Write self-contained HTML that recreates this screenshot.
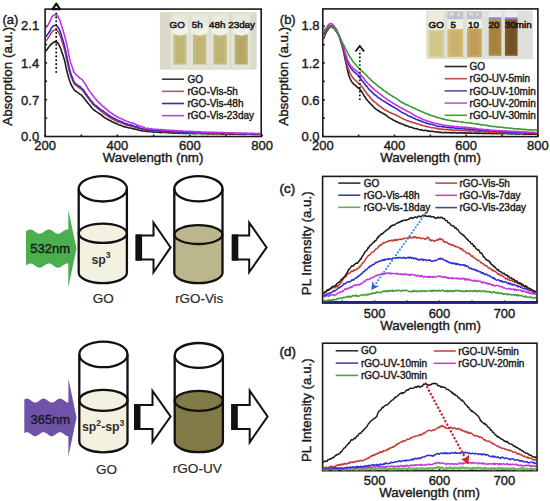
<!DOCTYPE html>
<html><head><meta charset="utf-8"><style>
html,body{margin:0;padding:0;background:#fff;}
svg{display:block;}
svg text{font-family:"Liberation Sans", sans-serif;}
</style></head><body>
<svg width="550" height="501" viewBox="0 0 550 501">
<rect width="550" height="501" fill="#fff"/>
<g stroke="#1a1a1a" stroke-width="1.6" fill="none">
<rect x="45.1" y="9.1" width="216.1" height="127.4"/>
<line x1="45.1" y1="136.5" x2="45.1" y2="134.5"/>
<line x1="81.3" y1="136.5" x2="81.3" y2="134.5"/>
<line x1="117.4" y1="136.5" x2="117.4" y2="134.5"/>
<line x1="153.6" y1="136.5" x2="153.6" y2="134.5"/>
<line x1="189.8" y1="136.5" x2="189.8" y2="134.5"/>
<line x1="225.9" y1="136.5" x2="225.9" y2="134.5"/>
<line x1="262.1" y1="136.5" x2="262.1" y2="134.5"/>
<line x1="45.1" y1="118.1" x2="47.1" y2="118.1"/>
<line x1="45.1" y1="99.7" x2="47.1" y2="99.7"/>
<line x1="45.1" y1="81.30000000000001" x2="47.1" y2="81.30000000000001"/>
<line x1="45.1" y1="62.900000000000006" x2="47.1" y2="62.900000000000006"/>
<line x1="45.1" y1="44.5" x2="47.1" y2="44.5"/>
<line x1="45.1" y1="26.10000000000001" x2="47.1" y2="26.10000000000001"/>
</g>
<path d="M45.90,51.14 L46.70,49.89 L47.50,49.01 L48.30,47.64 L49.10,46.81 L49.90,45.70 L50.70,44.60 L51.50,44.02 L52.30,43.17 L53.10,42.89 L53.90,42.24 L54.70,41.75 L55.50,41.81 L56.30,42.28 L57.10,42.35 L57.90,43.04 L58.70,44.25 L59.50,45.91 L60.30,47.67 L61.10,49.78 L61.90,52.38 L62.70,54.21 L63.50,57.03 L64.30,59.41 L65.10,62.54 L65.90,66.66 L66.70,70.30 L67.50,73.65 L68.30,76.26 L69.10,79.16 L69.90,81.57 L70.70,83.48 L71.50,85.39 L72.30,86.76 L73.10,88.16 L73.90,89.41 L74.70,90.52 L75.50,91.02 L76.30,91.46 L77.10,92.09 L77.90,92.60 L78.70,93.08 L79.50,93.87 L80.30,94.37 L81.10,94.76 L81.90,95.64 L82.70,96.47 L83.50,97.61 L84.30,98.57 L85.10,99.41 L85.90,100.81 L86.70,101.38 L87.50,102.53 L88.30,103.69 L89.10,104.38 L89.90,105.53 L90.70,106.25 L91.50,107.52 L92.30,108.53 L93.10,109.26 L93.90,110.11 L94.70,110.42 L95.50,111.15 L96.30,111.61 L97.10,112.09 L97.90,112.52 L98.70,113.21 L99.50,113.78 L100.30,114.11 L101.10,114.81 L101.90,115.15 L102.70,116.13 L103.50,116.75 L104.30,117.53 L105.10,118.00 L105.90,118.26 L106.70,118.80 L107.50,119.42 L108.30,119.56 L109.10,120.23 L109.90,120.52 L110.70,120.91 L111.50,121.29 L112.30,122.04 L113.10,122.09 L113.90,122.52 L114.70,122.94 L115.50,123.50 L116.30,123.42 L117.10,123.91 L117.90,124.27 L118.70,124.75 L119.50,125.04 L120.30,125.39 L121.10,125.42 L121.90,125.79 L122.70,126.06 L123.50,126.60 L124.30,126.90 L125.10,126.75 L125.90,127.00 L126.70,127.26 L127.50,127.47 L128.30,127.78 L129.10,127.99 L129.90,127.98 L130.70,127.99 L131.50,128.35 L132.30,128.47 L133.10,128.72 L133.90,129.06 L134.70,129.08 L135.50,129.15 L136.30,129.37 L137.10,129.59 L137.90,129.50 L138.70,130.17 L139.50,130.34 L140.30,130.58 L141.10,130.71 L141.90,130.66 L142.70,130.85 L143.50,130.88 L144.30,131.29 L145.10,131.13 L145.90,131.23 L146.70,131.39 L147.50,131.44 L148.30,131.60 L149.10,131.51 L149.90,131.54 L150.70,131.67 L151.50,131.70 L152.30,131.88 L153.10,131.75 L153.90,132.22 L154.70,132.14 L155.50,131.95 L156.30,132.05 L157.10,132.14 L157.90,132.19 L158.70,132.11 L159.50,132.51 L160.30,132.62 L161.10,132.40 L161.90,132.44 L162.70,132.28 L163.50,132.33 L164.30,132.49 L165.10,132.49 L165.90,132.80 L166.70,132.51 L167.50,132.47 L168.30,132.97 L169.10,132.79 L169.90,132.64 L170.70,132.87 L171.50,132.64 L172.30,132.93 L173.10,133.19 L173.90,133.16 L174.70,133.11 L175.50,132.92 L176.30,133.00 L177.10,132.93 L177.90,133.26 L178.70,133.17 L179.50,133.32 L180.30,133.12 L181.10,133.09 L181.90,133.41 L182.70,133.52 L183.50,133.48 L184.30,133.48 L185.10,133.50 L185.90,133.48 L186.70,133.24 L187.50,133.41 L188.30,133.34 L189.10,133.19 L189.90,133.21 L190.70,133.35 L191.50,133.35 L192.30,133.58 L193.10,133.72 L193.90,133.48 L194.70,133.74 L195.50,133.77 L196.30,133.77 L197.10,133.48 L197.90,133.42 L198.70,133.44 L199.50,133.43 L200.30,133.45 L201.10,133.67 L201.90,133.81 L202.70,133.79 L203.50,133.62 L204.30,133.72 L205.10,133.81 L205.90,133.46 L206.70,133.76 L207.50,133.90 L208.30,133.85 L209.10,133.84 L209.90,133.72 L210.70,133.58 L211.50,133.90 L212.30,133.69 L213.10,133.93 L213.90,134.03 L214.70,133.75 L215.50,133.77 L216.30,134.06 L217.10,133.96 L217.90,133.69 L218.70,133.68 L219.50,133.71 L220.30,134.10 L221.10,134.06 L221.90,133.74 L222.70,134.09 L223.50,134.18 L224.30,134.03 L225.10,133.89 L225.90,134.00 L226.70,133.80 L227.50,133.75 L228.30,134.24 L229.10,134.09 L229.90,134.04 L230.70,134.26 L231.50,134.02 L232.30,134.25 L233.10,134.24 L233.90,133.94 L234.70,133.97 L235.50,134.00 L236.30,133.99 L237.10,134.17 L237.90,134.02 L238.70,134.11 L239.50,133.97 L240.30,134.37 L241.10,134.10 L241.90,134.16 L242.70,134.24 L243.50,134.41 L244.30,134.17 L245.10,134.43 L245.90,134.23 L246.70,134.26 L247.50,134.26 L248.30,134.02 L249.10,134.24 L249.90,134.12 L250.70,134.04 L251.50,134.44 L252.30,134.14 L253.10,134.30 L253.90,134.43 L254.70,134.36 L255.50,134.25 L256.30,134.36 L257.10,134.38 L257.90,134.51 L258.70,134.18 L259.50,134.41 L260.30,134.27" fill="none" stroke="#1c1c1c" stroke-width="1.6" stroke-linejoin="round"/>
<path d="M45.90,41.07 L46.70,40.17 L47.50,38.89 L48.30,37.76 L49.10,36.63 L49.90,35.36 L50.70,33.76 L51.50,32.55 L52.30,31.40 L53.10,30.79 L53.90,30.41 L54.70,29.88 L55.50,29.80 L56.30,29.95 L57.10,30.57 L57.90,31.23 L58.70,32.52 L59.50,34.22 L60.30,35.96 L61.10,38.48 L61.90,41.17 L62.70,43.64 L63.50,45.93 L64.30,48.76 L65.10,52.15 L65.90,55.84 L66.70,59.55 L67.50,62.92 L68.30,66.73 L69.10,70.20 L69.90,73.32 L70.70,75.46 L71.50,77.79 L72.30,79.69 L73.10,81.35 L73.90,83.27 L74.70,84.42 L75.50,84.81 L76.30,85.77 L77.10,86.07 L77.90,86.73 L78.70,87.60 L79.50,88.11 L80.30,88.35 L81.10,89.09 L81.90,89.83 L82.70,90.57 L83.50,91.48 L84.30,92.64 L85.10,94.01 L85.90,94.85 L86.70,96.25 L87.50,97.29 L88.30,98.15 L89.10,99.36 L89.90,100.54 L90.70,101.49 L91.50,102.27 L92.30,103.73 L93.10,104.55 L93.90,105.45 L94.70,105.77 L95.50,106.55 L96.30,107.11 L97.10,108.13 L97.90,108.51 L98.70,109.06 L99.50,109.83 L100.30,110.70 L101.10,111.29 L101.90,111.67 L102.70,112.27 L103.50,113.31 L104.30,113.77 L105.10,114.44 L105.90,114.71 L106.70,115.25 L107.50,116.11 L108.30,116.50 L109.10,116.84 L109.90,117.76 L110.70,118.09 L111.50,118.63 L112.30,118.71 L113.10,119.53 L113.90,119.55 L114.70,120.36 L115.50,120.54 L116.30,120.86 L117.10,121.33 L117.90,121.87 L118.70,121.89 L119.50,122.15 L120.30,122.66 L121.10,122.83 L121.90,123.07 L122.70,123.40 L123.50,123.66 L124.30,124.05 L125.10,124.42 L125.90,124.73 L126.70,125.24 L127.50,125.26 L128.30,125.58 L129.10,125.61 L129.90,125.86 L130.70,125.86 L131.50,126.15 L132.30,126.23 L133.10,126.80 L133.90,126.93 L134.70,126.98 L135.50,127.35 L136.30,127.81 L137.10,127.63 L137.90,128.25 L138.70,128.32 L139.50,128.60 L140.30,129.00 L141.10,128.97 L141.90,129.22 L142.70,129.55 L143.50,129.93 L144.30,129.81 L145.10,130.22 L145.90,130.29 L146.70,130.37 L147.50,130.36 L148.30,130.42 L149.10,130.35 L149.90,130.46 L150.70,130.50 L151.50,130.90 L152.30,130.72 L153.10,130.74 L153.90,130.76 L154.70,131.19 L155.50,131.26 L156.30,131.21 L157.10,131.07 L157.90,131.11 L158.70,131.18 L159.50,131.32 L160.30,131.22 L161.10,131.41 L161.90,131.37 L162.70,131.76 L163.50,131.82 L164.30,131.65 L165.10,131.54 L165.90,131.95 L166.70,131.67 L167.50,131.74 L168.30,131.60 L169.10,131.83 L169.90,131.92 L170.70,131.98 L171.50,131.87 L172.30,132.06 L173.10,131.86 L173.90,132.03 L174.70,131.98 L175.50,132.17 L176.30,132.03 L177.10,132.06 L177.90,132.24 L178.70,132.24 L179.50,132.45 L180.30,132.46 L181.10,132.60 L181.90,132.59 L182.70,132.65 L183.50,132.76 L184.30,132.54 L185.10,132.54 L185.90,132.90 L186.70,132.51 L187.50,132.82 L188.30,132.80 L189.10,132.53 L189.90,132.95 L190.70,133.00 L191.50,132.89 L192.30,132.96 L193.10,133.02 L193.90,132.70 L194.70,132.92 L195.50,132.92 L196.30,133.11 L197.10,133.11 L197.90,133.14 L198.70,133.04 L199.50,133.21 L200.30,133.12 L201.10,133.14 L201.90,132.93 L202.70,132.85 L203.50,132.92 L204.30,133.05 L205.10,132.94 L205.90,133.32 L206.70,133.20 L207.50,133.25 L208.30,133.27 L209.10,133.32 L209.90,133.24 L210.70,133.02 L211.50,133.43 L212.30,133.42 L213.10,133.32 L213.90,133.35 L214.70,133.43 L215.50,133.15 L216.30,133.51 L217.10,133.28 L217.90,133.21 L218.70,133.32 L219.50,133.57 L220.30,133.32 L221.10,133.61 L221.90,133.74 L222.70,133.52 L223.50,133.48 L224.30,133.54 L225.10,133.66 L225.90,133.72 L226.70,133.66 L227.50,133.68 L228.30,133.42 L229.10,133.47 L229.90,133.54 L230.70,133.79 L231.50,133.59 L232.30,133.74 L233.10,133.47 L233.90,133.51 L234.70,133.63 L235.50,133.85 L236.30,133.87 L237.10,133.88 L237.90,133.70 L238.70,133.82 L239.50,133.81 L240.30,133.83 L241.10,133.67 L241.90,134.07 L242.70,133.73 L243.50,134.13 L244.30,134.13 L245.10,133.68 L245.90,133.91 L246.70,134.10 L247.50,134.19 L248.30,133.94 L249.10,133.87 L249.90,133.85 L250.70,134.23 L251.50,133.87 L252.30,134.07 L253.10,133.86 L253.90,134.07 L254.70,134.29 L255.50,133.89 L256.30,134.25 L257.10,134.11 L257.90,134.31 L258.70,134.23 L259.50,134.00 L260.30,134.35" fill="none" stroke="#c4403c" stroke-width="1.6" stroke-linejoin="round"/>
<path d="M45.90,36.86 L46.70,35.54 L47.50,34.43 L48.30,33.55 L49.10,32.28 L49.90,30.78 L50.70,29.23 L51.50,27.90 L52.30,26.66 L53.10,26.32 L53.90,25.50 L54.70,25.55 L55.50,25.53 L56.30,25.37 L57.10,26.22 L57.90,27.00 L58.70,28.43 L59.50,29.90 L60.30,32.05 L61.10,34.36 L61.90,37.07 L62.70,39.52 L63.50,42.19 L64.30,45.19 L65.10,48.43 L65.90,52.18 L66.70,55.93 L67.50,59.93 L68.30,63.43 L69.10,67.46 L69.90,70.47 L70.70,73.18 L71.50,75.48 L72.30,77.40 L73.10,79.62 L73.90,81.61 L74.70,82.80 L75.50,83.58 L76.30,84.11 L77.10,84.85 L77.90,85.49 L78.70,85.92 L79.50,86.61 L80.30,86.85 L81.10,87.80 L81.90,88.35 L82.70,89.33 L83.50,90.25 L84.30,91.19 L85.10,92.27 L85.90,93.93 L86.70,94.70 L87.50,96.00 L88.30,97.02 L89.10,98.06 L89.90,99.33 L90.70,100.48 L91.50,101.14 L92.30,102.35 L93.10,103.10 L93.90,104.07 L94.70,104.78 L95.50,105.35 L96.30,105.99 L97.10,106.63 L97.90,107.58 L98.70,107.97 L99.50,108.41 L100.30,109.34 L101.10,109.97 L101.90,110.30 L102.70,110.75 L103.50,111.37 L104.30,111.91 L105.10,112.60 L105.90,113.02 L106.70,113.63 L107.50,114.16 L108.30,114.84 L109.10,115.55 L109.90,116.02 L110.70,116.36 L111.50,116.85 L112.30,117.38 L113.10,117.77 L113.90,118.21 L114.70,118.51 L115.50,119.05 L116.30,119.80 L117.10,119.78 L117.90,120.35 L118.70,120.78 L119.50,121.23 L120.30,121.23 L121.10,121.57 L121.90,121.87 L122.70,122.26 L123.50,122.62 L124.30,123.22 L125.10,123.52 L125.90,123.88 L126.70,123.77 L127.50,124.06 L128.30,124.64 L129.10,124.93 L129.90,124.89 L130.70,125.12 L131.50,125.01 L132.30,125.42 L133.10,125.93 L133.90,126.13 L134.70,126.41 L135.50,126.73 L136.30,126.63 L137.10,126.81 L137.90,127.11 L138.70,127.57 L139.50,127.91 L140.30,128.27 L141.10,128.37 L141.90,128.54 L142.70,128.85 L143.50,128.97 L144.30,129.24 L145.10,129.17 L145.90,129.69 L146.70,129.54 L147.50,129.99 L148.30,129.96 L149.10,129.87 L149.90,129.87 L150.70,130.00 L151.50,130.26 L152.30,130.36 L153.10,130.13 L153.90,130.18 L154.70,130.47 L155.50,130.55 L156.30,130.51 L157.10,130.49 L157.90,130.73 L158.70,130.49 L159.50,130.69 L160.30,130.83 L161.10,131.13 L161.90,131.02 L162.70,131.19 L163.50,131.04 L164.30,130.97 L165.10,131.02 L165.90,131.43 L166.70,131.35 L167.50,131.20 L168.30,131.10 L169.10,131.39 L169.90,131.52 L170.70,131.44 L171.50,131.40 L172.30,131.65 L173.10,131.82 L173.90,131.52 L174.70,131.46 L175.50,131.66 L176.30,131.74 L177.10,131.91 L177.90,131.71 L178.70,132.05 L179.50,132.06 L180.30,131.98 L181.10,131.87 L181.90,132.29 L182.70,132.00 L183.50,132.28 L184.30,132.02 L185.10,132.05 L185.90,132.35 L186.70,132.15 L187.50,132.51 L188.30,132.31 L189.10,132.18 L189.90,132.22 L190.70,132.35 L191.50,132.50 L192.30,132.66 L193.10,132.28 L193.90,132.43 L194.70,132.36 L195.50,132.77 L196.30,132.37 L197.10,132.35 L197.90,132.38 L198.70,132.56 L199.50,132.84 L200.30,132.85 L201.10,132.80 L201.90,132.95 L202.70,132.94 L203.50,132.66 L204.30,132.60 L205.10,133.00 L205.90,132.93 L206.70,132.59 L207.50,132.93 L208.30,132.81 L209.10,132.83 L209.90,132.83 L210.70,132.77 L211.50,132.70 L212.30,132.86 L213.10,132.92 L213.90,133.24 L214.70,132.85 L215.50,133.29 L216.30,132.93 L217.10,133.02 L217.90,133.27 L218.70,133.29 L219.50,133.12 L220.30,132.94 L221.10,133.17 L221.90,133.14 L222.70,133.43 L223.50,133.09 L224.30,133.19 L225.10,133.47 L225.90,133.06 L226.70,133.27 L227.50,133.48 L228.30,133.48 L229.10,133.13 L229.90,133.15 L230.70,133.18 L231.50,133.62 L232.30,133.31 L233.10,133.57 L233.90,133.66 L234.70,133.40 L235.50,133.38 L236.30,133.74 L237.10,133.58 L237.90,133.42 L238.70,133.67 L239.50,133.48 L240.30,133.48 L241.10,133.35 L241.90,133.75 L242.70,133.84 L243.50,133.71 L244.30,133.88 L245.10,133.44 L245.90,133.56 L246.70,133.69 L247.50,133.95 L248.30,133.96 L249.10,133.69 L249.90,133.64 L250.70,133.74 L251.50,133.79 L252.30,134.02 L253.10,133.66 L253.90,133.98 L254.70,133.96 L255.50,134.02 L256.30,134.01 L257.10,133.94 L257.90,133.81 L258.70,133.82 L259.50,133.86 L260.30,134.08" fill="none" stroke="#2a2ad0" stroke-width="1.6" stroke-linejoin="round"/>
<path d="M45.90,27.77 L46.70,26.77 L47.50,25.92 L48.30,24.48 L49.10,22.99 L49.90,21.26 L50.70,19.68 L51.50,17.70 L52.30,16.38 L53.10,15.62 L53.90,15.27 L54.70,14.66 L55.50,14.48 L56.30,14.61 L57.10,15.24 L57.90,16.35 L58.70,17.72 L59.50,19.54 L60.30,21.82 L61.10,24.24 L61.90,26.70 L62.70,29.28 L63.50,31.98 L64.30,34.68 L65.10,37.41 L65.90,40.99 L66.70,44.16 L67.50,47.95 L68.30,51.93 L69.10,56.31 L69.90,59.91 L70.70,62.91 L71.50,65.06 L72.30,67.23 L73.10,70.13 L73.90,71.93 L74.70,73.08 L75.50,74.05 L76.30,75.13 L77.10,75.60 L77.90,76.15 L78.70,77.15 L79.50,77.76 L80.30,78.53 L81.10,78.68 L81.90,79.53 L82.70,80.49 L83.50,81.50 L84.30,82.76 L85.10,83.70 L85.90,85.24 L86.70,86.53 L87.50,87.84 L88.30,89.42 L89.10,90.39 L89.90,91.71 L90.70,92.55 L91.50,93.89 L92.30,94.75 L93.10,95.71 L93.90,97.00 L94.70,98.10 L95.50,98.68 L96.30,99.89 L97.10,100.83 L97.90,101.52 L98.70,102.44 L99.50,103.12 L100.30,103.90 L101.10,104.64 L101.90,105.50 L102.70,106.21 L103.50,106.67 L104.30,107.26 L105.10,108.11 L105.90,108.98 L106.70,109.41 L107.50,110.15 L108.30,110.74 L109.10,111.67 L109.90,112.15 L110.70,112.49 L111.50,113.07 L112.30,113.76 L113.10,114.37 L113.90,114.93 L114.70,115.18 L115.50,115.72 L116.30,116.48 L117.10,116.81 L117.90,117.18 L118.70,117.60 L119.50,118.27 L120.30,118.27 L121.10,118.70 L121.90,118.90 L122.70,119.27 L123.50,119.87 L124.30,120.35 L125.10,120.47 L125.90,120.81 L126.70,121.47 L127.50,121.55 L128.30,121.73 L129.10,122.40 L129.90,122.36 L130.70,122.75 L131.50,122.76 L132.30,123.26 L133.10,123.36 L133.90,123.55 L134.70,123.82 L135.50,124.44 L136.30,124.81 L137.10,125.26 L137.90,125.16 L138.70,125.73 L139.50,125.88 L140.30,126.20 L141.10,126.26 L141.90,126.58 L142.70,127.02 L143.50,127.56 L144.30,127.44 L145.10,127.86 L145.90,128.21 L146.70,128.45 L147.50,128.20 L148.30,128.29 L149.10,128.80 L149.90,128.92 L150.70,128.77 L151.50,128.64 L152.30,129.16 L153.10,128.97 L153.90,129.30 L154.70,129.23 L155.50,129.41 L156.30,129.14 L157.10,129.53 L157.90,129.31 L158.70,129.47 L159.50,129.75 L160.30,129.81 L161.10,129.55 L161.90,129.63 L162.70,129.78 L163.50,129.90 L164.30,129.89 L165.10,129.82 L165.90,129.94 L166.70,130.24 L167.50,130.38 L168.30,130.01 L169.10,130.32 L169.90,130.48 L170.70,130.17 L171.50,130.63 L172.30,130.32 L173.10,130.61 L173.90,130.64 L174.70,130.73 L175.50,130.62 L176.30,130.73 L177.10,130.86 L177.90,130.83 L178.70,131.00 L179.50,130.94 L180.30,130.99 L181.10,130.83 L181.90,131.17 L182.70,131.15 L183.50,131.07 L184.30,131.37 L185.10,131.42 L185.90,131.30 L186.70,131.20 L187.50,131.39 L188.30,131.24 L189.10,131.29 L189.90,131.48 L190.70,131.34 L191.50,131.55 L192.30,131.62 L193.10,131.42 L193.90,131.75 L194.70,131.50 L195.50,131.86 L196.30,131.91 L197.10,131.81 L197.90,131.61 L198.70,131.87 L199.50,131.83 L200.30,132.15 L201.10,131.77 L201.90,132.16 L202.70,132.26 L203.50,132.15 L204.30,132.22 L205.10,131.94 L205.90,132.37 L206.70,132.15 L207.50,132.41 L208.30,132.42 L209.10,132.07 L209.90,132.41 L210.70,132.51 L211.50,132.11 L212.30,132.27 L213.10,132.50 L213.90,132.23 L214.70,132.63 L215.50,132.34 L216.30,132.64 L217.10,132.32 L217.90,132.53 L218.70,132.76 L219.50,132.43 L220.30,132.48 L221.10,132.63 L221.90,132.55 L222.70,132.44 L223.50,132.53 L224.30,132.54 L225.10,132.95 L225.90,132.85 L226.70,132.98 L227.50,132.63 L228.30,132.96 L229.10,132.65 L229.90,132.88 L230.70,132.95 L231.50,132.84 L232.30,133.12 L233.10,132.98 L233.90,133.01 L234.70,133.18 L235.50,132.82 L236.30,133.28 L237.10,133.12 L237.90,133.02 L238.70,133.24 L239.50,133.00 L240.30,133.38 L241.10,133.19 L241.90,133.10 L242.70,133.32 L243.50,133.18 L244.30,133.07 L245.10,133.37 L245.90,133.04 L246.70,133.44 L247.50,133.18 L248.30,133.39 L249.10,133.58 L249.90,133.40 L250.70,133.45 L251.50,133.30 L252.30,133.16 L253.10,133.19 L253.90,133.27 L254.70,133.52 L255.50,133.44 L256.30,133.50 L257.10,133.71 L257.90,133.35 L258.70,133.41 L259.50,133.64 L260.30,133.35" fill="none" stroke="#c830e0" stroke-width="1.6" stroke-linejoin="round"/>
<line x1="56.2" y1="13.4" x2="56.2" y2="72" stroke="#111" stroke-width="2" stroke-linecap="round" stroke-dasharray="0.1,3.8"/>
<path d="M52.7,9.2 L56.3,3.6 L59.9,9.2 Z" fill="none" stroke="#111" stroke-width="2.2" stroke-linejoin="round"/>
<text x="45.1" y="150.4" font-size="13" text-anchor="middle" fill="#1a1a1a" stroke="#1a1a1a" stroke-width="0.4" >200</text>
<text x="117.4" y="150.4" font-size="13" text-anchor="middle" fill="#1a1a1a" stroke="#1a1a1a" stroke-width="0.4" >400</text>
<text x="189.8" y="150.4" font-size="13" text-anchor="middle" fill="#1a1a1a" stroke="#1a1a1a" stroke-width="0.4" >600</text>
<text x="262.1" y="150.4" font-size="13" text-anchor="middle" fill="#1a1a1a" stroke="#1a1a1a" stroke-width="0.4" >800</text>
<text x="39.2" y="141.1" font-size="13" text-anchor="end" fill="#1a1a1a" stroke="#1a1a1a" stroke-width="0.4" >0.0</text>
<text x="39.2" y="104.7" font-size="13" text-anchor="end" fill="#1a1a1a" stroke="#1a1a1a" stroke-width="0.4" >0.7</text>
<text x="39.2" y="67.7" font-size="13" text-anchor="end" fill="#1a1a1a" stroke="#1a1a1a" stroke-width="0.4" >1.4</text>
<text x="39.2" y="30.2" font-size="13" text-anchor="end" fill="#1a1a1a" stroke="#1a1a1a" stroke-width="0.4" >2.1</text>
<text x="153" y="161.5" font-size="13.3" text-anchor="middle" fill="#1a1a1a" stroke="#1a1a1a" stroke-width="0.4" >Wavelength (nm)</text>
<text transform="translate(12.2,76.3) rotate(-90)" font-size="13.4" stroke="#1a1a1a" stroke-width="0.4" text-anchor="middle" fill="#1a1a1a">Absorption (a.u.)</text>
<text x="2.5" y="23.8" font-size="13" text-anchor="start" fill="#1a1a1a" stroke="#1a1a1a" stroke-width="0.4" >(a)</text>
<g stroke="#1a1a1a" stroke-width="1.6" fill="none">
<rect x="322.8" y="8.9" width="215.09999999999997" height="127.69999999999999"/>
<line x1="322.8" y1="136.6" x2="322.8" y2="134.6"/>
<line x1="358.6" y1="136.6" x2="358.6" y2="134.6"/>
<line x1="394.5" y1="136.6" x2="394.5" y2="134.6"/>
<line x1="430.4" y1="136.6" x2="430.4" y2="134.6"/>
<line x1="466.2" y1="136.6" x2="466.2" y2="134.6"/>
<line x1="502.0" y1="136.6" x2="502.0" y2="134.6"/>
<line x1="537.9" y1="136.6" x2="537.9" y2="134.6"/>
<line x1="322.8" y1="118.19999999999999" x2="324.8" y2="118.19999999999999"/>
<line x1="322.8" y1="99.8" x2="324.8" y2="99.8"/>
<line x1="322.8" y1="81.4" x2="324.8" y2="81.4"/>
<line x1="322.8" y1="63.0" x2="324.8" y2="63.0"/>
<line x1="322.8" y1="44.599999999999994" x2="324.8" y2="44.599999999999994"/>
<line x1="322.8" y1="26.200000000000003" x2="324.8" y2="26.200000000000003"/>
</g>
<path d="M323.60,38.89 L324.40,36.68 L325.20,34.47 L326.00,32.93 L326.80,31.41 L327.60,30.19 L328.40,28.93 L329.20,27.69 L330.00,27.15 L330.80,26.69 L331.60,26.60 L332.40,27.37 L333.20,27.64 L334.00,28.37 L334.80,29.24 L335.60,30.50 L336.40,31.66 L337.20,32.79 L338.00,34.03 L338.80,35.70 L339.60,37.62 L340.40,40.26 L341.20,42.86 L342.00,45.61 L342.80,48.76 L343.60,51.76 L344.40,55.72 L345.20,59.55 L346.00,63.05 L346.80,67.08 L347.60,70.21 L348.40,73.90 L349.20,76.45 L350.00,78.39 L350.80,80.00 L351.60,81.75 L352.40,82.47 L353.20,83.60 L354.00,84.54 L354.80,84.83 L355.60,85.53 L356.40,86.43 L357.20,87.01 L358.00,87.65 L358.80,88.45 L359.60,89.02 L360.40,90.06 L361.20,91.10 L362.00,92.07 L362.80,93.64 L363.60,94.89 L364.40,96.22 L365.20,97.13 L366.00,98.67 L366.80,99.65 L367.60,100.52 L368.40,101.62 L369.20,102.42 L370.00,103.23 L370.80,104.05 L371.60,104.96 L372.40,105.66 L373.20,106.57 L374.00,107.50 L374.80,108.15 L375.60,108.88 L376.40,109.44 L377.20,109.81 L378.00,110.53 L378.80,110.99 L379.60,111.64 L380.40,111.94 L381.20,112.23 L382.00,112.83 L382.80,113.42 L383.60,113.52 L384.40,114.35 L385.20,114.47 L386.00,115.16 L386.80,115.74 L387.60,116.58 L388.40,117.26 L389.20,117.70 L390.00,118.01 L390.80,118.77 L391.60,118.95 L392.40,119.34 L393.20,120.09 L394.00,120.37 L394.80,120.80 L395.60,121.18 L396.40,121.72 L397.20,121.85 L398.00,122.41 L398.80,122.71 L399.60,123.15 L400.40,123.30 L401.20,123.80 L402.00,124.08 L402.80,124.29 L403.60,124.59 L404.40,125.13 L405.20,125.18 L406.00,125.91 L406.80,125.83 L407.60,126.06 L408.40,126.38 L409.20,127.06 L410.00,127.02 L410.80,127.16 L411.60,127.34 L412.40,127.57 L413.20,128.12 L414.00,128.30 L414.80,128.53 L415.60,128.75 L416.40,128.61 L417.20,129.06 L418.00,129.12 L418.80,129.53 L419.60,129.70 L420.40,129.89 L421.20,129.64 L422.00,130.19 L422.80,130.36 L423.60,130.51 L424.40,130.22 L425.20,130.39 L426.00,130.46 L426.80,130.53 L427.60,131.04 L428.40,131.13 L429.20,131.14 L430.00,131.34 L430.80,131.34 L431.60,131.27 L432.40,131.28 L433.20,131.39 L434.00,131.83 L434.80,131.67 L435.60,131.84 L436.40,131.99 L437.20,131.88 L438.00,132.08 L438.80,132.16 L439.60,132.44 L440.40,132.31 L441.20,132.34 L442.00,132.70 L442.80,132.51 L443.60,132.71 L444.40,132.63 L445.20,132.36 L446.00,132.58 L446.80,132.61 L447.60,132.80 L448.40,132.61 L449.20,132.81 L450.00,132.75 L450.80,132.61 L451.60,132.95 L452.40,132.58 L453.20,132.96 L454.00,132.65 L454.80,132.58 L455.60,132.70 L456.40,132.99 L457.20,133.11 L458.00,132.64 L458.80,132.90 L459.60,132.91 L460.40,133.08 L461.20,132.79 L462.00,132.96 L462.80,132.90 L463.60,133.15 L464.40,132.88 L465.20,133.24 L466.00,132.92 L466.80,132.90 L467.60,133.16 L468.40,133.07 L469.20,132.89 L470.00,133.17 L470.80,132.91 L471.60,133.27 L472.40,133.24 L473.20,133.30 L474.00,133.24 L474.80,133.12 L475.60,133.15 L476.40,133.16 L477.20,133.43 L478.00,133.04 L478.80,133.45 L479.60,133.03 L480.40,133.14 L481.20,133.18 L482.00,133.51 L482.80,133.33 L483.60,133.28 L484.40,133.54 L485.20,133.23 L486.00,133.36 L486.80,133.41 L487.60,133.53 L488.40,133.54 L489.20,133.50 L490.00,133.36 L490.80,133.37 L491.60,133.29 L492.40,133.65 L493.20,133.57 L494.00,133.63 L494.80,133.35 L495.60,133.50 L496.40,133.68 L497.20,133.59 L498.00,133.38 L498.80,133.56 L499.60,133.79 L500.40,133.48 L501.20,133.47 L502.00,133.53 L502.80,133.75 L503.60,133.83 L504.40,133.50 L505.20,133.51 L506.00,133.57 L506.80,133.62 L507.60,133.73 L508.40,133.56 L509.20,133.66 L510.00,133.60 L510.80,134.01 L511.60,133.90 L512.40,133.60 L513.20,134.04 L514.00,133.62 L514.80,133.78 L515.60,134.09 L516.40,134.01 L517.20,133.99 L518.00,133.85 L518.80,133.75 L519.60,133.98 L520.40,133.73 L521.20,133.79 L522.00,133.89 L522.80,133.73 L523.60,133.92 L524.40,134.13 L525.20,134.10 L526.00,134.01 L526.80,134.09 L527.60,134.02 L528.40,133.87 L529.20,134.11 L530.00,134.03 L530.80,134.21 L531.60,134.30 L532.40,134.08 L533.20,134.16 L534.00,134.26 L534.80,134.11 L535.60,134.03 L536.40,134.29 L537.20,134.38" fill="none" stroke="#1c1c1c" stroke-width="1.6" stroke-linejoin="round"/>
<path d="M323.60,37.75 L324.40,35.55 L325.20,33.72 L326.00,32.09 L326.80,30.70 L327.60,29.27 L328.40,27.99 L329.20,27.14 L330.00,26.16 L330.80,25.96 L331.60,26.24 L332.40,26.58 L333.20,27.15 L334.00,27.73 L334.80,28.71 L335.60,29.71 L336.40,30.83 L337.20,31.92 L338.00,33.48 L338.80,35.29 L339.60,36.83 L340.40,39.16 L341.20,41.64 L342.00,44.09 L342.80,46.94 L343.60,50.08 L344.40,53.10 L345.20,56.87 L346.00,60.20 L346.80,63.91 L347.60,66.95 L348.40,69.12 L349.20,70.88 L350.00,72.85 L350.80,74.40 L351.60,75.93 L352.40,77.14 L353.20,78.26 L354.00,79.23 L354.80,79.84 L355.60,80.55 L356.40,81.54 L357.20,81.82 L358.00,82.69 L358.80,83.25 L359.60,84.25 L360.40,84.79 L361.20,86.14 L362.00,86.80 L362.80,87.68 L363.60,88.95 L364.40,90.23 L365.20,91.19 L366.00,92.46 L366.80,93.46 L367.60,94.59 L368.40,95.38 L369.20,96.28 L370.00,97.19 L370.80,98.34 L371.60,99.30 L372.40,99.92 L373.20,100.54 L374.00,101.58 L374.80,102.09 L375.60,102.69 L376.40,103.32 L377.20,104.29 L378.00,104.95 L378.80,105.50 L379.60,106.03 L380.40,106.67 L381.20,107.07 L382.00,108.00 L382.80,108.24 L383.60,108.91 L384.40,109.51 L385.20,110.01 L386.00,110.31 L386.80,110.69 L387.60,111.26 L388.40,111.49 L389.20,112.26 L390.00,112.43 L390.80,113.06 L391.60,113.12 L392.40,113.51 L393.20,113.77 L394.00,114.18 L394.80,114.40 L395.60,114.67 L396.40,115.41 L397.20,115.59 L398.00,115.99 L398.80,116.44 L399.60,116.96 L400.40,117.36 L401.20,117.88 L402.00,118.30 L402.80,118.54 L403.60,119.19 L404.40,119.52 L405.20,119.49 L406.00,120.22 L406.80,120.60 L407.60,120.86 L408.40,120.84 L409.20,121.48 L410.00,121.67 L410.80,121.63 L411.60,121.89 L412.40,122.62 L413.20,122.72 L414.00,122.77 L414.80,122.94 L415.60,123.20 L416.40,123.48 L417.20,123.99 L418.00,124.01 L418.80,124.14 L419.60,124.74 L420.40,124.91 L421.20,124.82 L422.00,125.40 L422.80,125.47 L423.60,125.77 L424.40,125.93 L425.20,126.25 L426.00,126.40 L426.80,126.63 L427.60,126.51 L428.40,126.95 L429.20,127.05 L430.00,127.34 L430.80,127.36 L431.60,127.75 L432.40,127.75 L433.20,127.78 L434.00,127.93 L434.80,128.06 L435.60,128.40 L436.40,128.33 L437.20,128.66 L438.00,128.62 L438.80,128.90 L439.60,129.00 L440.40,129.10 L441.20,129.34 L442.00,128.99 L442.80,129.48 L443.60,129.36 L444.40,129.47 L445.20,129.58 L446.00,129.72 L446.80,129.54 L447.60,129.62 L448.40,129.94 L449.20,129.55 L450.00,129.88 L450.80,129.92 L451.60,129.67 L452.40,130.00 L453.20,130.08 L454.00,130.25 L454.80,130.00 L455.60,130.36 L456.40,130.17 L457.20,130.20 L458.00,130.45 L458.80,130.06 L459.60,130.45 L460.40,130.44 L461.20,130.34 L462.00,130.64 L462.80,130.44 L463.60,130.54 L464.40,130.60 L465.20,130.77 L466.00,130.53 L466.80,130.69 L467.60,130.73 L468.40,130.84 L469.20,131.02 L470.00,130.80 L470.80,131.11 L471.60,130.95 L472.40,131.04 L473.20,130.98 L474.00,131.14 L474.80,131.43 L475.60,131.32 L476.40,131.44 L477.20,131.25 L478.00,131.30 L478.80,131.34 L479.60,131.53 L480.40,131.61 L481.20,131.73 L482.00,131.41 L482.80,131.80 L483.60,131.93 L484.40,131.81 L485.20,131.61 L486.00,131.79 L486.80,131.69 L487.60,131.83 L488.40,132.24 L489.20,132.13 L490.00,132.20 L490.80,132.31 L491.60,132.41 L492.40,132.30 L493.20,132.35 L494.00,132.39 L494.80,132.47 L495.60,132.45 L496.40,132.54 L497.20,132.34 L498.00,132.60 L498.80,132.53 L499.60,132.71 L500.40,132.42 L501.20,132.48 L502.00,132.44 L502.80,132.84 L503.60,132.94 L504.40,132.83 L505.20,132.72 L506.00,132.97 L506.80,132.98 L507.60,132.89 L508.40,132.76 L509.20,132.80 L510.00,132.89 L510.80,132.86 L511.60,132.94 L512.40,133.06 L513.20,133.23 L514.00,132.81 L514.80,133.09 L515.60,132.85 L516.40,132.91 L517.20,133.27 L518.00,133.17 L518.80,133.37 L519.60,133.15 L520.40,132.95 L521.20,133.16 L522.00,133.28 L522.80,133.47 L523.60,133.51 L524.40,133.28 L525.20,133.26 L526.00,133.13 L526.80,133.42 L527.60,133.22 L528.40,133.20 L529.20,133.15 L530.00,133.17 L530.80,133.52 L531.60,133.26 L532.40,133.70 L533.20,133.28 L534.00,133.69 L534.80,133.34 L535.60,133.30 L536.40,133.67 L537.20,133.45" fill="none" stroke="#c4403c" stroke-width="1.6" stroke-linejoin="round"/>
<path d="M323.60,34.33 L324.40,32.43 L325.20,30.93 L326.00,30.14 L326.80,29.06 L327.60,28.10 L328.40,27.11 L329.20,26.02 L330.00,25.78 L330.80,25.60 L331.60,25.63 L332.40,26.23 L333.20,26.45 L334.00,27.52 L334.80,28.26 L335.60,28.91 L336.40,30.08 L337.20,31.86 L338.00,33.71 L338.80,35.33 L339.60,37.55 L340.40,39.86 L341.20,41.62 L342.00,44.11 L342.80,46.19 L343.60,48.43 L344.40,51.81 L345.20,54.67 L346.00,57.09 L346.80,59.61 L347.60,61.59 L348.40,63.92 L349.20,65.35 L350.00,66.85 L350.80,68.00 L351.60,68.95 L352.40,69.93 L353.20,70.99 L354.00,71.83 L354.80,72.47 L355.60,73.13 L356.40,73.77 L357.20,74.42 L358.00,75.66 L358.80,76.38 L359.60,77.38 L360.40,78.14 L361.20,79.34 L362.00,80.59 L362.80,81.56 L363.60,82.50 L364.40,83.41 L365.20,84.49 L366.00,85.69 L366.80,86.39 L367.60,87.50 L368.40,88.41 L369.20,89.48 L370.00,90.34 L370.80,90.96 L371.60,91.65 L372.40,92.56 L373.20,93.38 L374.00,94.14 L374.80,94.92 L375.60,95.58 L376.40,95.77 L377.20,96.77 L378.00,97.36 L378.80,97.97 L379.60,98.40 L380.40,98.80 L381.20,99.63 L382.00,100.15 L382.80,100.61 L383.60,101.25 L384.40,101.48 L385.20,101.86 L386.00,102.60 L386.80,103.21 L387.60,103.40 L388.40,104.16 L389.20,104.74 L390.00,104.87 L390.80,105.53 L391.60,106.03 L392.40,106.39 L393.20,106.72 L394.00,107.20 L394.80,107.92 L395.60,108.41 L396.40,108.72 L397.20,109.03 L398.00,109.89 L398.80,110.37 L399.60,110.61 L400.40,111.28 L401.20,111.93 L402.00,112.41 L402.80,112.69 L403.60,113.13 L404.40,113.64 L405.20,113.89 L406.00,114.33 L406.80,114.75 L407.60,115.43 L408.40,115.66 L409.20,116.15 L410.00,116.45 L410.80,116.88 L411.60,117.07 L412.40,117.38 L413.20,118.22 L414.00,118.27 L414.80,118.49 L415.60,119.11 L416.40,119.53 L417.20,119.55 L418.00,120.11 L418.80,120.31 L419.60,120.71 L420.40,120.77 L421.20,121.08 L422.00,121.85 L422.80,122.07 L423.60,122.15 L424.40,122.46 L425.20,122.57 L426.00,123.09 L426.80,123.16 L427.60,123.66 L428.40,123.80 L429.20,124.06 L430.00,124.35 L430.80,124.22 L431.60,124.32 L432.40,124.61 L433.20,124.81 L434.00,124.98 L434.80,125.18 L435.60,125.64 L436.40,125.98 L437.20,125.94 L438.00,126.34 L438.80,126.46 L439.60,126.16 L440.40,126.54 L441.20,126.55 L442.00,126.52 L442.80,127.04 L443.60,126.78 L444.40,127.03 L445.20,127.16 L446.00,127.40 L446.80,127.34 L447.60,127.29 L448.40,127.39 L449.20,127.33 L450.00,127.81 L450.80,127.90 L451.60,127.59 L452.40,127.57 L453.20,127.75 L454.00,127.87 L454.80,128.22 L455.60,128.29 L456.40,128.33 L457.20,128.00 L458.00,128.44 L458.80,128.47 L459.60,128.51 L460.40,128.75 L461.20,128.35 L462.00,128.46 L462.80,128.83 L463.60,128.99 L464.40,128.93 L465.20,128.80 L466.00,129.02 L466.80,129.17 L467.60,128.91 L468.40,129.08 L469.20,129.11 L470.00,129.11 L470.80,129.36 L471.60,129.27 L472.40,129.37 L473.20,129.38 L474.00,129.72 L474.80,129.45 L475.60,129.87 L476.40,129.67 L477.20,129.65 L478.00,130.16 L478.80,129.87 L479.60,130.29 L480.40,130.32 L481.20,130.40 L482.00,130.09 L482.80,130.30 L483.60,130.19 L484.40,130.66 L485.20,130.68 L486.00,130.63 L486.80,130.60 L487.60,130.60 L488.40,130.90 L489.20,130.79 L490.00,130.92 L490.80,130.73 L491.60,130.83 L492.40,130.80 L493.20,131.18 L494.00,131.15 L494.80,131.00 L495.60,131.41 L496.40,131.16 L497.20,131.29 L498.00,131.21 L498.80,131.31 L499.60,131.65 L500.40,131.44 L501.20,131.40 L502.00,131.61 L502.80,131.57 L503.60,131.90 L504.40,131.55 L505.20,132.02 L506.00,131.60 L506.80,132.07 L507.60,131.99 L508.40,131.80 L509.20,131.98 L510.00,131.92 L510.80,131.95 L511.60,131.96 L512.40,132.08 L513.20,132.43 L514.00,132.47 L514.80,132.47 L515.60,132.09 L516.40,132.23 L517.20,132.57 L518.00,132.18 L518.80,132.56 L519.60,132.38 L520.40,132.76 L521.20,132.31 L522.00,132.74 L522.80,132.54 L523.60,132.48 L524.40,132.45 L525.20,132.90 L526.00,132.78 L526.80,132.64 L527.60,132.80 L528.40,133.08 L529.20,132.77 L530.00,132.98 L530.80,132.80 L531.60,132.85 L532.40,133.18 L533.20,133.19 L534.00,132.97 L534.80,132.94 L535.60,132.98 L536.40,133.28 L537.20,133.26" fill="none" stroke="#2a2ad0" stroke-width="1.6" stroke-linejoin="round"/>
<path d="M323.60,31.41 L324.40,30.06 L325.20,29.07 L326.00,28.10 L326.80,27.15 L327.60,25.98 L328.40,24.82 L329.20,23.96 L330.00,23.79 L330.80,23.45 L331.60,23.87 L332.40,24.04 L333.20,25.16 L334.00,25.81 L334.80,27.09 L335.60,28.25 L336.40,29.34 L337.20,30.61 L338.00,32.83 L338.80,34.59 L339.60,36.87 L340.40,38.63 L341.20,40.59 L342.00,42.98 L342.80,44.92 L343.60,47.15 L344.40,50.36 L345.20,53.15 L346.00,55.23 L346.80,57.78 L347.60,59.87 L348.40,61.79 L349.20,63.13 L350.00,64.66 L350.80,65.75 L351.60,66.72 L352.40,67.36 L353.20,68.35 L354.00,68.89 L354.80,69.74 L355.60,70.06 L356.40,71.10 L357.20,71.74 L358.00,72.12 L358.80,72.82 L359.60,73.63 L360.40,74.51 L361.20,75.19 L362.00,76.63 L362.80,77.24 L363.60,78.28 L364.40,79.34 L365.20,80.44 L366.00,81.66 L366.80,82.13 L367.60,83.00 L368.40,84.12 L369.20,84.67 L370.00,85.37 L370.80,86.43 L371.60,87.17 L372.40,87.87 L373.20,88.67 L374.00,89.06 L374.80,90.11 L375.60,90.69 L376.40,90.99 L377.20,91.67 L378.00,92.50 L378.80,93.14 L379.60,93.66 L380.40,94.20 L381.20,94.96 L382.00,95.44 L382.80,96.26 L383.60,96.99 L384.40,97.21 L385.20,97.99 L386.00,98.64 L386.80,98.90 L387.60,99.78 L388.40,100.37 L389.20,100.62 L390.00,101.16 L390.80,101.89 L391.60,102.24 L392.40,102.68 L393.20,103.44 L394.00,103.85 L394.80,104.11 L395.60,104.54 L396.40,105.05 L397.20,105.56 L398.00,106.28 L398.80,106.64 L399.60,107.13 L400.40,107.52 L401.20,107.98 L402.00,108.02 L402.80,108.70 L403.60,109.36 L404.40,109.80 L405.20,109.91 L406.00,110.45 L406.80,111.00 L407.60,111.32 L408.40,111.84 L409.20,112.05 L410.00,112.67 L410.80,113.14 L411.60,113.34 L412.40,113.85 L413.20,114.71 L414.00,115.06 L414.80,115.59 L415.60,115.87 L416.40,116.40 L417.20,116.86 L418.00,117.28 L418.80,117.26 L419.60,117.96 L420.40,118.15 L421.20,118.72 L422.00,118.87 L422.80,119.34 L423.60,119.86 L424.40,120.03 L425.20,120.16 L426.00,120.59 L426.80,120.84 L427.60,121.38 L428.40,121.32 L429.20,121.60 L430.00,122.02 L430.80,122.01 L431.60,122.49 L432.40,122.90 L433.20,122.90 L434.00,122.98 L434.80,123.28 L435.60,123.50 L436.40,123.49 L437.20,123.65 L438.00,123.82 L438.80,124.06 L439.60,124.27 L440.40,124.37 L441.20,124.50 L442.00,124.57 L442.80,124.94 L443.60,125.23 L444.40,125.26 L445.20,125.38 L446.00,125.56 L446.80,125.46 L447.60,125.84 L448.40,125.84 L449.20,125.99 L450.00,126.13 L450.80,126.16 L451.60,126.18 L452.40,126.24 L453.20,126.32 L454.00,126.55 L454.80,126.56 L455.60,126.73 L456.40,126.51 L457.20,126.75 L458.00,127.06 L458.80,126.81 L459.60,127.02 L460.40,127.05 L461.20,127.00 L462.00,127.41 L462.80,127.12 L463.60,127.41 L464.40,127.16 L465.20,127.18 L466.00,127.64 L466.80,127.49 L467.60,127.37 L468.40,127.60 L469.20,127.70 L470.00,127.92 L470.80,127.69 L471.60,127.83 L472.40,128.28 L473.20,128.26 L474.00,128.06 L474.80,128.25 L475.60,128.36 L476.40,128.62 L477.20,128.69 L478.00,128.91 L478.80,128.99 L479.60,128.94 L480.40,129.15 L481.20,129.25 L482.00,129.35 L482.80,129.30 L483.60,129.54 L484.40,129.59 L485.20,129.78 L486.00,129.46 L486.80,129.92 L487.60,129.56 L488.40,130.01 L489.20,129.99 L490.00,130.02 L490.80,130.32 L491.60,130.18 L492.40,130.17 L493.20,130.41 L494.00,130.51 L494.80,130.43 L495.60,130.37 L496.40,130.46 L497.20,130.51 L498.00,130.70 L498.80,130.53 L499.60,130.62 L500.40,130.75 L501.20,130.71 L502.00,130.73 L502.80,131.00 L503.60,131.08 L504.40,130.95 L505.20,130.96 L506.00,130.88 L506.80,130.98 L507.60,130.94 L508.40,131.20 L509.20,131.24 L510.00,131.04 L510.80,131.49 L511.60,131.24 L512.40,131.54 L513.20,131.57 L514.00,131.67 L514.80,131.34 L515.60,131.49 L516.40,131.77 L517.20,131.36 L518.00,131.41 L518.80,131.71 L519.60,131.72 L520.40,131.97 L521.20,131.93 L522.00,131.85 L522.80,132.12 L523.60,131.92 L524.40,131.96 L525.20,132.08 L526.00,131.97 L526.80,131.99 L527.60,132.15 L528.40,132.06 L529.20,132.40 L530.00,132.30 L530.80,132.26 L531.60,132.09 L532.40,132.26 L533.20,132.32 L534.00,132.43 L534.80,132.48 L535.60,132.67 L536.40,132.75 L537.20,132.55" fill="none" stroke="#c830e0" stroke-width="1.6" stroke-linejoin="round"/>
<path d="M323.60,32.47 L324.40,31.17 L325.20,30.16 L326.00,28.92 L326.80,28.25 L327.60,27.65 L328.40,26.68 L329.20,26.25 L330.00,26.29 L330.80,26.16 L331.60,26.24 L332.40,26.43 L333.20,27.39 L334.00,27.99 L334.80,28.90 L335.60,29.95 L336.40,30.99 L337.20,32.05 L338.00,33.39 L338.80,35.06 L339.60,36.84 L340.40,38.54 L341.20,40.05 L342.00,41.61 L342.80,43.36 L343.60,44.86 L344.40,46.26 L345.20,48.14 L346.00,49.59 L346.80,50.95 L347.60,52.75 L348.40,54.46 L349.20,55.62 L350.00,57.11 L350.80,58.00 L351.60,59.33 L352.40,60.73 L353.20,61.68 L354.00,62.75 L354.80,63.50 L355.60,64.62 L356.40,65.61 L357.20,66.39 L358.00,67.45 L358.80,68.21 L359.60,69.24 L360.40,69.79 L361.20,70.46 L362.00,71.06 L362.80,71.82 L363.60,72.86 L364.40,73.28 L365.20,74.03 L366.00,74.84 L366.80,75.80 L367.60,76.76 L368.40,77.47 L369.20,78.39 L370.00,78.84 L370.80,79.61 L371.60,80.76 L372.40,81.27 L373.20,82.18 L374.00,82.69 L374.80,83.26 L375.60,83.97 L376.40,84.53 L377.20,85.57 L378.00,86.04 L378.80,86.55 L379.60,87.22 L380.40,87.80 L381.20,88.23 L382.00,89.24 L382.80,89.67 L383.60,90.44 L384.40,90.76 L385.20,91.41 L386.00,91.79 L386.80,92.23 L387.60,93.22 L388.40,93.72 L389.20,93.98 L390.00,94.80 L390.80,95.27 L391.60,95.51 L392.40,96.14 L393.20,96.80 L394.00,97.05 L394.80,97.77 L395.60,97.92 L396.40,98.51 L397.20,99.21 L398.00,99.52 L398.80,100.13 L399.60,100.98 L400.40,101.33 L401.20,102.03 L402.00,102.27 L402.80,102.72 L403.60,103.26 L404.40,103.60 L405.20,104.38 L406.00,104.41 L406.80,104.90 L407.60,105.03 L408.40,105.59 L409.20,105.88 L410.00,106.25 L410.80,106.46 L411.60,106.86 L412.40,107.59 L413.20,107.72 L414.00,108.05 L414.80,108.39 L415.60,108.81 L416.40,109.16 L417.20,109.42 L418.00,110.10 L418.80,110.30 L419.60,110.56 L420.40,111.19 L421.20,111.22 L422.00,111.65 L422.80,112.27 L423.60,112.25 L424.40,112.74 L425.20,113.26 L426.00,113.57 L426.80,113.56 L427.60,113.97 L428.40,114.47 L429.20,114.60 L430.00,115.18 L430.80,115.10 L431.60,115.75 L432.40,115.81 L433.20,115.94 L434.00,116.32 L434.80,116.43 L435.60,116.97 L436.40,117.00 L437.20,117.57 L438.00,117.65 L438.80,117.77 L439.60,117.94 L440.40,118.35 L441.20,118.37 L442.00,118.91 L442.80,118.74 L443.60,119.13 L444.40,119.34 L445.20,119.40 L446.00,119.83 L446.80,119.82 L447.60,120.12 L448.40,120.24 L449.20,120.27 L450.00,120.45 L450.80,120.44 L451.60,120.62 L452.40,121.09 L453.20,120.95 L454.00,121.24 L454.80,121.07 L455.60,121.40 L456.40,121.40 L457.20,121.56 L458.00,121.55 L458.80,121.52 L459.60,121.73 L460.40,121.77 L461.20,121.80 L462.00,122.18 L462.80,122.05 L463.60,122.19 L464.40,122.53 L465.20,122.55 L466.00,122.69 L466.80,122.78 L467.60,122.51 L468.40,122.68 L469.20,122.66 L470.00,123.09 L470.80,123.19 L471.60,123.15 L472.40,123.30 L473.20,123.54 L474.00,123.68 L474.80,123.58 L475.60,124.01 L476.40,123.89 L477.20,124.15 L478.00,124.06 L478.80,124.15 L479.60,124.68 L480.40,124.72 L481.20,124.84 L482.00,124.63 L482.80,124.75 L483.60,124.94 L484.40,125.08 L485.20,125.25 L486.00,125.41 L486.80,125.36 L487.60,125.61 L488.40,125.89 L489.20,125.77 L490.00,126.21 L490.80,126.18 L491.60,126.36 L492.40,126.23 L493.20,126.42 L494.00,126.64 L494.80,126.56 L495.60,126.48 L496.40,126.99 L497.20,127.05 L498.00,126.89 L498.80,126.85 L499.60,127.35 L500.40,127.30 L501.20,127.11 L502.00,127.29 L502.80,127.30 L503.60,127.72 L504.40,127.51 L505.20,127.94 L506.00,127.94 L506.80,127.69 L507.60,128.07 L508.40,127.99 L509.20,128.25 L510.00,128.36 L510.80,128.16 L511.60,128.14 L512.40,128.65 L513.20,128.46 L514.00,128.79 L514.80,128.74 L515.60,128.83 L516.40,128.95 L517.20,128.92 L518.00,128.91 L518.80,128.78 L519.60,129.17 L520.40,129.11 L521.20,129.22 L522.00,129.49 L522.80,129.16 L523.60,129.55 L524.40,129.25 L525.20,129.65 L526.00,129.76 L526.80,129.55 L527.60,129.75 L528.40,130.02 L529.20,129.90 L530.00,129.90 L530.80,129.80 L531.60,129.75 L532.40,129.93 L533.20,129.99 L534.00,129.92 L534.80,130.00 L535.60,129.93 L536.40,130.24 L537.20,130.25" fill="none" stroke="#3d9a34" stroke-width="1.6" stroke-linejoin="round"/>
<line x1="359.8" y1="100" x2="359.8" y2="50" stroke="#111" stroke-width="1.8" stroke-dasharray="1.6,2.2"/>
<path d="M355.5,51.5 L359.8,46 L364.1,51.5" fill="none" stroke="#111" stroke-width="1.8"/>
<text x="322.8" y="150.4" font-size="13" text-anchor="middle" fill="#1a1a1a" stroke="#1a1a1a" stroke-width="0.4" >200</text>
<text x="394.5" y="150.4" font-size="13" text-anchor="middle" fill="#1a1a1a" stroke="#1a1a1a" stroke-width="0.4" >400</text>
<text x="466.2" y="150.4" font-size="13" text-anchor="middle" fill="#1a1a1a" stroke="#1a1a1a" stroke-width="0.4" >600</text>
<text x="537.9" y="150.4" font-size="13" text-anchor="middle" fill="#1a1a1a" stroke="#1a1a1a" stroke-width="0.4" >800</text>
<text x="319.5" y="141.1" font-size="13" text-anchor="end" fill="#1a1a1a" stroke="#1a1a1a" stroke-width="0.4" >0.0</text>
<text x="319.5" y="104.7" font-size="13" text-anchor="end" fill="#1a1a1a" stroke="#1a1a1a" stroke-width="0.4" >0.6</text>
<text x="319.5" y="67.7" font-size="13" text-anchor="end" fill="#1a1a1a" stroke="#1a1a1a" stroke-width="0.4" >1.2</text>
<text x="319.5" y="30.2" font-size="13" text-anchor="end" fill="#1a1a1a" stroke="#1a1a1a" stroke-width="0.4" >1.8</text>
<text x="430.5" y="161.5" font-size="13.3" text-anchor="middle" fill="#1a1a1a" stroke="#1a1a1a" stroke-width="0.4" >Wavelength (nm)</text>
<text transform="translate(288,76.3) rotate(-90)" font-size="13.4" stroke="#1a1a1a" stroke-width="0.4" text-anchor="middle" fill="#1a1a1a">Absorption (a.u.)</text>
<text x="279.8" y="24.0" font-size="13" text-anchor="start" fill="#1a1a1a" stroke="#1a1a1a" stroke-width="0.4" >(b)</text>
<line x1="162" y1="79.2" x2="184" y2="79.2" stroke="#3a3a3a" stroke-width="1.6"/>
<text x="187.5" y="82.8" font-size="10" text-anchor="start" fill="#1a1a1a" stroke="#1a1a1a" stroke-width="0.4" >GO</text>
<line x1="162" y1="91.35000000000001" x2="184" y2="91.35000000000001" stroke="#a8605c" stroke-width="1.6"/>
<text x="187.5" y="94.95" font-size="10" text-anchor="start" fill="#1a1a1a" stroke="#1a1a1a" stroke-width="0.4" >rGO-Vis-5h</text>
<line x1="162" y1="103.5" x2="184" y2="103.5" stroke="#3030a8" stroke-width="1.6"/>
<text x="187.5" y="107.1" font-size="10" text-anchor="start" fill="#1a1a1a" stroke="#1a1a1a" stroke-width="0.4" >rGO-Vis-48h</text>
<line x1="162" y1="115.65" x2="184" y2="115.65" stroke="#c040e0" stroke-width="1.6"/>
<text x="187.5" y="119.25" font-size="10" text-anchor="start" fill="#1a1a1a" stroke="#1a1a1a" stroke-width="0.4" >rGO-Vis-23day</text>
<line x1="444.6" y1="66.5" x2="467" y2="66.5" stroke="#2a2a2a" stroke-width="1.6"/>
<text x="469.6" y="70.1" font-size="10" text-anchor="start" fill="#1a1a1a" stroke="#1a1a1a" stroke-width="0.4" >GO</text>
<line x1="444.6" y1="78.7" x2="467" y2="78.7" stroke="#c05050" stroke-width="1.6"/>
<text x="469.6" y="82.3" font-size="10" text-anchor="start" fill="#1a1a1a" stroke="#1a1a1a" stroke-width="0.4" >rGO-UV-5min</text>
<line x1="444.6" y1="90.9" x2="467" y2="90.9" stroke="#5050b8" stroke-width="1.6"/>
<text x="469.6" y="94.5" font-size="10" text-anchor="start" fill="#1a1a1a" stroke="#1a1a1a" stroke-width="0.4" >rGO-UV-10min</text>
<line x1="444.6" y1="103.1" x2="467" y2="103.1" stroke="#b858e0" stroke-width="1.6"/>
<text x="469.6" y="106.69999999999999" font-size="10" text-anchor="start" fill="#1a1a1a" stroke="#1a1a1a" stroke-width="0.4" >rGO-UV-20min</text>
<line x1="444.6" y1="115.3" x2="467" y2="115.3" stroke="#509a44" stroke-width="1.6"/>
<text x="469.6" y="118.89999999999999" font-size="10" text-anchor="start" fill="#1a1a1a" stroke="#1a1a1a" stroke-width="0.4" >rGO-UV-30min</text>
<rect x="159.9" y="12.2" width="96.70000000000002" height="57.39999999999999" fill="#d9dac8"/>
<rect x="170.5" y="13.2" width="19.0" height="55.39999999999999" fill="#e3e3d8"/>
<rect x="172.5" y="15.2" width="15.0" height="20" fill="#e9e9e0"/>
<rect x="173.5" y="34.5" width="13.0" height="30" fill="#c6be82"/>
<rect x="176.0" y="37.5" width="8.0" height="25.5" fill="#c0b776"/>
<path d="M172.0,26 L188.0,26 L188.0,31.5 Q180.0,39.5 172.0,31.5 Z" fill="#f1f1ea"/>
<rect x="190" y="13.2" width="19.30000000000001" height="55.39999999999999" fill="#e3e3d8"/>
<rect x="192" y="15.2" width="15.300000000000011" height="20" fill="#e9e9e0"/>
<rect x="193" y="34.5" width="13.300000000000011" height="30" fill="#c5bc80"/>
<rect x="195.5" y="37.5" width="8.300000000000011" height="25.5" fill="#bfb574"/>
<path d="M191.5,26 L207.8,26 L207.8,31.5 Q199.65,39.5 191.5,31.5 Z" fill="#f1f1ea"/>
<rect x="210.4" y="13.2" width="19.400000000000006" height="55.39999999999999" fill="#e3e3d8"/>
<rect x="212.4" y="15.2" width="15.400000000000006" height="20" fill="#e9e9e0"/>
<rect x="213.4" y="34.5" width="13.400000000000006" height="30" fill="#c4ba7e"/>
<rect x="215.9" y="37.5" width="8.400000000000006" height="25.5" fill="#beb372"/>
<path d="M211.9,26 L228.3,26 L228.3,31.5 Q220.10000000000002,39.5 211.9,31.5 Z" fill="#f1f1ea"/>
<rect x="231.6" y="13.2" width="19.200000000000017" height="55.39999999999999" fill="#e3e3d8"/>
<rect x="233.6" y="15.2" width="15.200000000000017" height="20" fill="#e9e9e0"/>
<rect x="234.6" y="34.5" width="13.200000000000017" height="30" fill="#bcb070"/>
<rect x="237.1" y="37.5" width="8.200000000000017" height="25.5" fill="#b4a766"/>
<path d="M233.1,26 L249.3,26 L249.3,31.5 Q241.2,39.5 233.1,31.5 Z" fill="#f1f1ea"/>
<text x="177.2" y="28.2" font-size="9.8" text-anchor="middle" fill="#1e1e1e" stroke="#1e1e1e" stroke-width="0.55" >GO</text>
<text x="197.2" y="28.2" font-size="9.8" text-anchor="middle" fill="#1e1e1e" stroke="#1e1e1e" stroke-width="0.55" >5h</text>
<text x="217.2" y="28.2" font-size="9.8" text-anchor="middle" fill="#1e1e1e" stroke="#1e1e1e" stroke-width="0.55" >48h</text>
<text x="241.6" y="28.2" font-size="9.8" text-anchor="middle" fill="#1e1e1e" stroke="#1e1e1e" stroke-width="0.55" >23day</text>
<rect x="426.2" y="10.6" width="106.59999999999997" height="48.4" fill="#e0e0da"/>
<rect x="428.4" y="11.5" width="15.6" height="46.5" fill="#ecebdc"/>
<rect x="428.4" y="30" width="15.6" height="27.5" fill="#d8ce96"/>
<rect x="430.8" y="32" width="10.8" height="24" fill="#d2c68a"/>
<rect x="447.5" y="11.5" width="15.600000000000023" height="6.2" fill="#c2c2be"/>
<rect x="449.5" y="12.5" width="4" height="3" fill="#e0e0e0"/><rect x="457.1" y="13" width="3" height="3" fill="#d8d8d8"/>
<rect x="447.5" y="17.6" width="15.600000000000023" height="1.8" fill="#b4bce0"/>
<rect x="447.5" y="19.4" width="15.600000000000023" height="9.700000000000003" fill="#efefe8"/>
<rect x="447.5" y="29.1" width="15.600000000000023" height="27.9" fill="#d0bb78"/>
<rect x="450.0" y="31.1" width="10.600000000000023" height="23.9" fill="#c9b36c"/>
<rect x="467.2" y="11.5" width="14.5" height="6.2" fill="#c2c2be"/>
<rect x="469.2" y="12.5" width="4" height="3" fill="#e0e0e0"/><rect x="475.7" y="13" width="3" height="3" fill="#d8d8d8"/>
<rect x="467.2" y="17.6" width="14.5" height="1.8" fill="#b4bce0"/>
<rect x="467.2" y="19.4" width="14.5" height="9.200000000000003" fill="#efefe8"/>
<rect x="467.2" y="28.6" width="14.5" height="28.4" fill="#c8a762"/>
<rect x="469.7" y="30.6" width="9.5" height="24.4" fill="#c09e58"/>
<rect x="488.7" y="11.3" width="12.699999999999989" height="6.5" fill="#ececf2"/>
<rect x="488.7" y="17.3" width="12.699999999999989" height="1.8" fill="#7e8cd8"/>
<rect x="488.7" y="19.2" width="12.699999999999989" height="36.6" fill="#ae8b46"/>
<rect x="490.7" y="21" width="8.699999999999989" height="33" fill="#a6823c"/>
<rect x="504.9" y="11.3" width="12.700000000000045" height="6.5" fill="#ececf2"/>
<rect x="504.9" y="17.3" width="12.700000000000045" height="1.8" fill="#7e8cd8"/>
<rect x="504.9" y="19.2" width="12.700000000000045" height="36.6" fill="#7e5c2c"/>
<rect x="506.9" y="21" width="8.700000000000045" height="33" fill="#745224"/>
<text x="436.2" y="27.5" font-size="9.8" text-anchor="middle" fill="#1a1a1a" stroke="#1a1a1a" stroke-width="0.6" >GO</text>
<text x="453.2" y="27.5" font-size="9.8" text-anchor="middle" fill="#1a1a1a" stroke="#1a1a1a" stroke-width="0.6" >5</text>
<text x="473.4" y="27.5" font-size="9.8" text-anchor="middle" fill="#1a1a1a" stroke="#1a1a1a" stroke-width="0.6" >10</text>
<text x="494.0" y="27.5" font-size="9.8" text-anchor="middle" fill="#1a1a1a" stroke="#1a1a1a" stroke-width="0.6" >20</text>
<text x="518.3" y="27.5" font-size="9.8" text-anchor="middle" fill="#1a1a1a" stroke="#1a1a1a" stroke-width="0.6" >30min</text>
<path d="M26.00,231.37 L26.50,231.02 L27.00,230.69 L27.50,230.38 L28.00,230.11 L28.50,229.88 L29.00,229.70 L29.50,229.58 L30.00,229.51 L30.50,229.50 L31.00,229.56 L31.50,229.67 L32.00,229.84 L32.50,230.06 L33.00,230.32 L33.50,230.62 L34.00,230.95 L34.50,231.30 L35.00,231.65 L35.50,232.01 L36.00,232.35 L36.50,232.67 L37.00,232.96 L37.50,233.21 L38.00,233.42 L38.50,233.57 L39.00,233.66 L39.50,233.70 L40.00,233.68 L40.50,233.59 L41.00,233.45 L41.50,233.26 L42.00,233.01 L42.50,232.73 L43.00,232.42 L43.50,232.08 L44.00,231.72 L44.50,231.37 L45.00,231.02 L45.50,230.69 L46.00,230.38 L46.50,230.11 L47.00,229.88 L47.50,229.70 L48.00,229.58 L48.50,229.51 L49.00,229.50 L49.50,229.56 L50.00,229.67 L50.50,229.84 L51.00,230.06 L51.50,230.32 L52.00,230.62 L52.50,230.95 L53.00,231.30 L53.50,231.65 L54.00,232.01 L54.50,232.35 L55.00,232.67 L55.50,232.96 L56.00,233.21 L56.50,233.42 L57.00,233.57 L57.50,233.66 L58.00,233.70 L58.50,233.68 L59.00,233.59 L59.50,233.45 L60.00,233.26 L60.50,233.01 L61.00,232.73 L61.50,232.42 L62.00,232.08 L62.50,231.72 L63.00,231.37 L63.50,231.02 L64.00,230.69 L64.50,230.38 L65.00,230.11 L65.50,229.88 L66.00,229.70 L66.50,229.58 L67.00,229.51 L67.50,229.50 L68.00,229.56 L68.3,229.56 L68.3,209.8 L76.5,248.6 L68.3,287.6 L68.3,263.56 68.00,263.56 L67.50,263.50 L67.00,263.51 L66.50,263.58 L66.00,263.70 L65.50,263.88 L65.00,264.11 L64.50,264.38 L64.00,264.69 L63.50,265.02 L63.00,265.37 L62.50,265.72 L62.00,266.08 L61.50,266.42 L61.00,266.73 L60.50,267.01 L60.00,267.26 L59.50,267.45 L59.00,267.59 L58.50,267.68 L58.00,267.70 L57.50,267.66 L57.00,267.57 L56.50,267.42 L56.00,267.21 L55.50,266.96 L55.00,266.67 L54.50,266.35 L54.00,266.01 L53.50,265.65 L53.00,265.30 L52.50,264.95 L52.00,264.62 L51.50,264.32 L51.00,264.06 L50.50,263.84 L50.00,263.67 L49.50,263.56 L49.00,263.50 L48.50,263.51 L48.00,263.58 L47.50,263.70 L47.00,263.88 L46.50,264.11 L46.00,264.38 L45.50,264.69 L45.00,265.02 L44.50,265.37 L44.00,265.72 L43.50,266.08 L43.00,266.42 L42.50,266.73 L42.00,267.01 L41.50,267.26 L41.00,267.45 L40.50,267.59 L40.00,267.68 L39.50,267.70 L39.00,267.66 L38.50,267.57 L38.00,267.42 L37.50,267.21 L37.00,266.96 L36.50,266.67 L36.00,266.35 L35.50,266.01 L35.00,265.65 L34.50,265.30 L34.00,264.95 L33.50,264.62 L33.00,264.32 L32.50,264.06 L32.00,263.84 L31.50,263.67 L31.00,263.56 L30.50,263.50 L30.00,263.51 L29.50,263.58 L29.00,263.70 L28.50,263.88 L28.00,264.11 L27.50,264.38 L27.00,264.69 L26.50,265.02 L26.00,265.37 Z" fill="#4bae4f"/>
<text x="50.1" y="253.1" font-size="13" text-anchor="middle" fill="#1a1a1a" stroke="#1a1a1a" stroke-width="0.4" >532nm</text>
<path d="M78.69999999999999,233.3 L78.69999999999999,272.8 A24.1,10.3 0 0 0 126.9,272.8 L126.9,233.3 Z" fill="#f3f1e0"/>
<ellipse cx="102.8" cy="233.3" rx="24.1" ry="9.6" fill="#f3f1e0" stroke="#111" stroke-width="2.3"/>
<path d="M78.69999999999999,188.8 L78.69999999999999,272.8 A24.1,10.3 0 0 0 126.9,272.8 L126.9,188.8" fill="none" stroke="#111" stroke-width="2.3"/>
<ellipse cx="102.8" cy="188.8" rx="24.1" ry="12.7" fill="none" stroke="#111" stroke-width="2.3"/>
<path d="M174.3,234.6 L174.3,272.8 A24.1,10.3 0 0 0 222.5,272.8 L222.5,234.6 Z" fill="#bbb68c"/>
<ellipse cx="198.4" cy="234.6" rx="24.1" ry="9.4" fill="#bbb68c" stroke="#111" stroke-width="2.3"/>
<path d="M174.3,188.8 L174.3,272.8 A24.1,10.3 0 0 0 222.5,272.8 L222.5,188.8" fill="none" stroke="#111" stroke-width="2.3"/>
<ellipse cx="198.4" cy="188.8" rx="24.1" ry="12.6" fill="none" stroke="#111" stroke-width="2.3"/>
<text x="91.4" y="263.6" font-size="12.3" font-weight="bold" fill="#2e2e2e">sp<tspan font-size="8.6" dy="-5.2">3</tspan></text>
<path d="M136.6,235.5 L153.5,235.5 L153.5,222.6 L170.6,247.4 L153.5,272.2 L153.5,259.6 L136.6,259.6 Z" fill="#fff" stroke="#111" stroke-width="2" stroke-linejoin="miter"/>
<rect x="135.6" y="234.5" width="6.5" height="26.100000000000023" fill="#111"/>
<path d="M232.8,235.5 L249.2,235.5 L249.2,222.6 L266.6,247.4 L249.2,272.2 L249.2,259.6 L232.8,259.6 Z" fill="#fff" stroke="#111" stroke-width="2" stroke-linejoin="miter"/>
<rect x="231.8" y="234.5" width="6.5" height="26.100000000000023" fill="#111"/>
<text x="103.2" y="303.0" font-size="13.5" text-anchor="middle" fill="#2a2a2a" stroke="#2a2a2a" stroke-width="0.2" >GO</text>
<text x="199.2" y="302.6" font-size="13.4" text-anchor="middle" fill="#2a2a2a" stroke="#2a2a2a" stroke-width="0.2" >rGO-Vis</text>
<path d="M24.30,399.57 L24.80,399.26 L25.30,399.00 L25.80,398.81 L26.30,398.67 L26.80,398.61 L27.30,398.61 L27.80,398.69 L28.30,398.84 L28.80,399.05 L29.30,399.32 L29.80,399.63 L30.30,399.98 L30.80,400.35 L31.30,400.73 L31.80,401.11 L32.30,401.47 L32.80,401.79 L33.30,402.07 L33.80,402.30 L34.30,402.47 L34.80,402.57 L35.30,402.60 L35.80,402.56 L36.30,402.44 L36.80,402.26 L37.30,402.02 L37.80,401.73 L38.30,401.40 L38.80,401.03 L39.30,400.66 L39.80,400.28 L40.30,399.91 L40.80,399.57 L41.30,399.26 L41.80,399.00 L42.30,398.81 L42.80,398.67 L43.30,398.61 L43.80,398.61 L44.30,398.69 L44.80,398.84 L45.30,399.05 L45.80,399.32 L46.30,399.63 L46.80,399.98 L47.30,400.35 L47.80,400.73 L48.30,401.11 L48.80,401.47 L49.30,401.79 L49.80,402.07 L50.30,402.30 L50.80,402.47 L51.30,402.57 L51.80,402.60 L52.30,402.56 L52.80,402.44 L53.30,402.26 L53.80,402.02 L54.30,401.73 L54.80,401.40 L55.30,401.03 L55.80,400.66 L56.30,400.28 L56.80,399.91 L57.30,399.57 L57.80,399.26 L58.30,399.00 L58.80,398.81 L59.30,398.67 L59.80,398.61 L60.30,398.61 L60.80,398.69 L61.30,398.84 L61.80,399.05 L62.30,399.32 L62.80,399.63 L63.30,399.98 L63.80,400.35 L64.30,400.73 L64.80,401.11 L65.30,401.47 L65.80,401.79 L66.30,402.07 L66.80,402.30 L67.30,402.47 L67.80,402.57 L68.30,402.60 L68.4,402.60 L68.4,378.4 L76.5,417.6 L68.4,456.4 L68.4,436.20 68.30,436.20 L67.80,436.17 L67.30,436.07 L66.80,435.90 L66.30,435.67 L65.80,435.39 L65.30,435.07 L64.80,434.71 L64.30,434.33 L63.80,433.95 L63.30,433.58 L62.80,433.23 L62.30,432.92 L61.80,432.65 L61.30,432.44 L60.80,432.29 L60.30,432.21 L59.80,432.21 L59.30,432.27 L58.80,432.41 L58.30,432.60 L57.80,432.86 L57.30,433.17 L56.80,433.51 L56.30,433.88 L55.80,434.26 L55.30,434.63 L54.80,435.00 L54.30,435.33 L53.80,435.62 L53.30,435.86 L52.80,436.04 L52.30,436.16 L51.80,436.20 L51.30,436.17 L50.80,436.07 L50.30,435.90 L49.80,435.67 L49.30,435.39 L48.80,435.07 L48.30,434.71 L47.80,434.33 L47.30,433.95 L46.80,433.58 L46.30,433.23 L45.80,432.92 L45.30,432.65 L44.80,432.44 L44.30,432.29 L43.80,432.21 L43.30,432.21 L42.80,432.27 L42.30,432.41 L41.80,432.60 L41.30,432.86 L40.80,433.17 L40.30,433.51 L39.80,433.88 L39.30,434.26 L38.80,434.63 L38.30,435.00 L37.80,435.33 L37.30,435.62 L36.80,435.86 L36.30,436.04 L35.80,436.16 L35.30,436.20 L34.80,436.17 L34.30,436.07 L33.80,435.90 L33.30,435.67 L32.80,435.39 L32.30,435.07 L31.80,434.71 L31.30,434.33 L30.80,433.95 L30.30,433.58 L29.80,433.23 L29.30,432.92 L28.80,432.65 L28.30,432.44 L27.80,432.29 L27.30,432.21 L26.80,432.21 L26.30,432.27 L25.80,432.41 L25.30,432.60 L24.80,432.86 L24.30,433.17 Z" fill="#6f53a9"/>
<text x="50.3" y="424.2" font-size="13" text-anchor="middle" fill="#1a1a2a" stroke="#1a1a2a" stroke-width="0.4" >365nm</text>
<path d="M79.30000000000001,400.3 L79.30000000000001,441.5 A24.1,10.8 0 0 0 127.5,441.5 L127.5,400.3 Z" fill="#f3f1e0"/>
<ellipse cx="103.4" cy="400.3" rx="24.1" ry="10.5" fill="#f3f1e0" stroke="#111" stroke-width="2.3"/>
<path d="M79.30000000000001,354.4 L79.30000000000001,441.5 A24.1,10.8 0 0 0 127.5,441.5 L127.5,354.4" fill="none" stroke="#111" stroke-width="2.3"/>
<ellipse cx="103.4" cy="354.4" rx="24.1" ry="12.8" fill="none" stroke="#111" stroke-width="2.3"/>
<path d="M174.70000000000002,400.8 L174.70000000000002,441.6 A24.1,10.6 0 0 0 222.9,441.6 L222.9,400.8 Z" fill="#807a46"/>
<ellipse cx="198.8" cy="400.8" rx="24.1" ry="10.0" fill="#807a46" stroke="#111" stroke-width="2.3"/>
<path d="M174.70000000000002,355.4 L174.70000000000002,441.6 A24.1,10.6 0 0 0 222.9,441.6 L222.9,355.4" fill="none" stroke="#111" stroke-width="2.3"/>
<ellipse cx="198.8" cy="355.4" rx="24.1" ry="12.4" fill="none" stroke="#111" stroke-width="2.3"/>
<text x="82" y="431" font-size="12.3" font-weight="bold" fill="#2e2e2e">sp<tspan font-size="8.6" dy="-5.2">2</tspan><tspan dy="5.2">-sp</tspan><tspan font-size="8.6" dy="-5.2">3</tspan></text>
<path d="M135.0,405 L152.5,405 L152.5,390.8 L170.6,416.5 L152.5,442.2 L152.5,429 L135.0,429 Z" fill="#fff" stroke="#111" stroke-width="2" stroke-linejoin="miter"/>
<rect x="134.0" y="404" width="6.5" height="26" fill="#111"/>
<path d="M232.3,405 L249.7,405 L249.7,390.8 L267.6,416.5 L249.7,442.2 L249.7,429 L232.3,429 Z" fill="#fff" stroke="#111" stroke-width="2" stroke-linejoin="miter"/>
<rect x="231.3" y="404" width="6.5" height="26" fill="#111"/>
<text x="106.6" y="474.2" font-size="13.5" text-anchor="middle" fill="#2a2a2a" stroke="#2a2a2a" stroke-width="0.2" >GO</text>
<text x="197.3" y="472.6" font-size="13.6" text-anchor="middle" fill="#2a2a2a" stroke="#2a2a2a" stroke-width="0.2" >rGO-UV</text>
<g stroke="#1a1a1a" stroke-width="1.6" fill="none">
<rect x="322.6" y="176.4" width="214.39999999999998" height="126.6"/>
<line x1="342.1" y1="303.0" x2="342.1" y2="300.5"/>
<line x1="374.6" y1="303.0" x2="374.6" y2="300.5"/>
<line x1="407.1" y1="303.0" x2="407.1" y2="300.5"/>
<line x1="439.5" y1="303.0" x2="439.5" y2="300.5"/>
<line x1="472.0" y1="303.0" x2="472.0" y2="300.5"/>
<line x1="504.5" y1="303.0" x2="504.5" y2="300.5"/>
<line x1="537.0" y1="303.0" x2="537.0" y2="300.5"/>
</g>
<path d="M323.20,302.30 L323.90,302.30 L324.60,302.30 L325.30,302.30 L326.00,302.30 L326.70,302.30 L327.40,302.30 L328.10,302.30 L328.80,302.30 L329.50,302.30 L330.20,302.30 L330.90,302.30 L331.60,302.30 L332.30,302.30 L333.00,302.30 L333.70,302.30 L334.40,302.30 L335.10,302.30 L335.80,302.30 L336.50,302.30 L337.20,302.30 L337.90,302.30 L338.60,302.30 L339.30,302.30 L340.00,302.30 L340.70,302.30 L341.40,302.30 L342.10,302.30 L342.80,302.30 L343.50,302.30 L344.20,302.30 L344.90,302.30 L345.60,302.30 L346.30,302.30 L347.00,302.30 L347.70,302.30 L348.40,302.30 L349.10,302.30 L349.80,302.30 L350.50,302.30 L351.20,302.30 L351.90,302.30 L352.60,302.30 L353.30,302.30 L354.00,302.30 L354.70,302.30 L355.40,302.30 L356.10,302.30 L356.80,302.30 L357.50,302.30 L358.20,302.30 L358.90,302.30 L359.60,302.30 L360.30,302.30 L361.00,302.30 L361.70,302.30 L362.40,302.30 L363.10,302.30 L363.80,302.30 L364.50,302.30 L365.20,302.30 L365.90,302.30 L366.60,302.30 L367.30,302.30 L368.00,302.30 L368.70,302.30 L369.40,302.30 L370.10,302.30 L370.80,302.30 L371.50,302.30 L372.20,302.30 L372.90,302.30 L373.60,302.30 L374.30,302.30 L375.00,302.30 L375.70,302.30 L376.40,302.30 L377.10,302.30 L377.80,302.30 L378.50,302.30 L379.20,302.30 L379.90,302.30 L380.60,302.30 L381.30,302.30 L382.00,302.30 L382.70,302.30 L383.40,302.30 L384.10,302.30 L384.80,302.30 L385.50,302.30 L386.20,302.30 L386.90,302.30 L387.60,302.30 L388.30,302.30 L389.00,302.30 L389.70,302.30 L390.40,302.30 L391.10,302.30 L391.80,302.30 L392.50,302.30 L393.20,302.30 L393.90,302.30 L394.60,302.30 L395.30,302.30 L396.00,302.30 L396.70,302.30 L397.40,302.30 L398.10,302.30 L398.80,302.30 L399.50,302.30 L400.20,302.30 L400.90,302.30 L401.60,302.30 L402.30,302.30 L403.00,302.30 L403.70,302.30 L404.40,302.30 L405.10,302.30 L405.80,302.30 L406.50,302.30 L407.20,302.30 L407.90,302.30 L408.60,302.30 L409.30,302.30 L410.00,302.30 L410.70,302.30 L411.40,302.30 L412.10,302.30 L412.80,302.30 L413.50,302.30 L414.20,302.30 L414.90,302.30 L415.60,302.30 L416.30,302.30 L417.00,302.30 L417.70,302.30 L418.40,302.30 L419.10,302.30 L419.80,302.30 L420.50,302.30 L421.20,302.30 L421.90,302.30 L422.60,302.30 L423.30,302.30 L424.00,302.30 L424.70,302.30 L425.40,302.30 L426.10,302.30 L426.80,302.30 L427.50,302.30 L428.20,302.30 L428.90,302.30 L429.60,302.30 L430.30,302.30 L431.00,302.30 L431.70,302.30 L432.40,302.30 L433.10,302.30 L433.80,302.30 L434.50,302.30 L435.20,302.30 L435.90,302.30 L436.60,302.30 L437.30,302.30 L438.00,302.30 L438.70,302.30 L439.40,302.30 L440.10,302.30 L440.80,302.30 L441.50,302.30 L442.20,302.30 L442.90,302.30 L443.60,302.30 L444.30,302.30 L445.00,302.30 L445.70,302.30 L446.40,302.30 L447.10,302.30 L447.80,302.30 L448.50,302.30 L449.20,302.30 L449.90,302.30 L450.60,302.30 L451.30,302.30 L452.00,302.30 L452.70,302.30 L453.40,302.30 L454.10,302.30 L454.80,302.30 L455.50,302.30 L456.20,302.30 L456.90,302.30 L457.60,302.30 L458.30,302.30 L459.00,302.30 L459.70,302.30 L460.40,302.30 L461.10,302.30 L461.80,302.30 L462.50,302.30 L463.20,302.30 L463.90,302.30 L464.60,302.30 L465.30,302.30 L466.00,302.30 L466.70,302.30 L467.40,302.30 L468.10,302.30 L468.80,302.30 L469.50,302.30 L470.20,302.30 L470.90,302.30 L471.60,302.30 L472.30,302.30 L473.00,302.30 L473.70,302.30 L474.40,302.30 L475.10,302.30 L475.80,302.30 L476.50,302.30 L477.20,302.30 L477.90,302.30 L478.60,302.30 L479.30,302.30 L480.00,302.30 L480.70,302.30 L481.40,302.30 L482.10,302.30 L482.80,302.30 L483.50,302.30 L484.20,302.30 L484.90,302.30 L485.60,302.30 L486.30,302.30 L487.00,302.30 L487.70,302.30 L488.40,302.30 L489.10,302.30 L489.80,302.30 L490.50,302.30 L491.20,302.30 L491.90,302.30 L492.60,302.30 L493.30,302.30 L494.00,302.30 L494.70,302.30 L495.40,302.30 L496.10,302.30 L496.80,302.30 L497.50,302.30 L498.20,302.30 L498.90,302.30 L499.60,302.30 L500.30,302.30 L501.00,302.30 L501.70,302.30 L502.40,302.30 L503.10,302.30 L503.80,302.30 L504.50,302.30 L505.20,302.30 L505.90,302.30 L506.60,302.30 L507.30,302.30 L508.00,302.30 L508.70,302.30 L509.40,302.30 L510.10,302.30 L510.80,302.30 L511.50,302.30 L512.20,302.30 L512.90,302.30 L513.60,302.30 L514.30,302.30 L515.00,302.30 L515.70,302.30 L516.40,302.30 L517.10,302.30 L517.80,302.30 L518.50,302.30 L519.20,302.30 L519.90,302.30 L520.60,302.30 L521.30,302.30 L522.00,302.30 L522.70,302.30 L523.40,302.30 L524.10,302.30 L524.80,302.30 L525.50,302.30 L526.20,302.30 L526.90,302.30 L527.60,302.30 L528.30,302.30 L529.00,302.30 L529.70,302.30 L530.40,302.30 L531.10,302.30 L531.80,302.30 L532.50,302.30 L533.20,302.30 L533.90,302.30 L534.60,302.30 L535.30,302.30 L536.00,302.30" fill="none" stroke="#23237a" stroke-width="2.4" stroke-linejoin="round"/>
<path d="M323.20,300.61 L323.90,300.53 L324.60,300.83 L325.30,300.65 L326.00,301.26 L326.70,300.36 L327.40,300.21 L328.10,300.95 L328.80,299.82 L329.50,300.33 L330.20,299.92 L330.90,300.51 L331.60,300.05 L332.30,300.25 L333.00,299.33 L333.70,299.93 L334.40,299.73 L335.10,299.43 L335.80,299.74 L336.50,299.71 L337.20,298.58 L337.90,298.69 L338.60,298.65 L339.30,298.29 L340.00,297.94 L340.70,298.11 L341.40,297.84 L342.10,298.40 L342.80,297.89 L343.50,297.27 L344.20,297.42 L344.90,297.48 L345.60,297.19 L346.30,296.77 L347.00,296.49 L347.70,296.26 L348.40,297.49 L349.10,297.01 L349.80,295.95 L350.50,296.72 L351.20,296.97 L351.90,296.28 L352.60,295.54 L353.30,295.97 L354.00,295.81 L354.70,295.39 L355.40,295.83 L356.10,295.06 L356.80,296.34 L357.50,295.96 L358.20,295.92 L358.90,296.31 L359.60,295.86 L360.30,295.21 L361.00,295.11 L361.70,294.87 L362.40,294.61 L363.10,295.55 L363.80,295.53 L364.50,294.66 L365.20,294.39 L365.90,294.91 L366.60,295.08 L367.30,295.07 L368.00,293.89 L368.70,294.63 L369.40,294.57 L370.10,294.32 L370.80,293.61 L371.50,293.27 L372.20,294.02 L372.90,293.17 L373.60,293.08 L374.30,293.19 L375.00,292.78 L375.70,293.28 L376.40,292.30 L377.10,291.88 L377.80,292.48 L378.50,292.43 L379.20,292.58 L379.90,292.30 L380.60,292.48 L381.30,292.44 L382.00,291.72 L382.70,291.65 L383.40,291.09 L384.10,291.21 L384.80,291.54 L385.50,290.77 L386.20,291.56 L386.90,290.77 L387.60,291.10 L388.30,291.79 L389.00,290.50 L389.70,290.38 L390.40,290.89 L391.10,290.49 L391.80,291.18 L392.50,290.12 L393.20,291.25 L393.90,291.22 L394.60,291.08 L395.30,290.54 L396.00,290.30 L396.70,290.80 L397.40,290.57 L398.10,290.42 L398.80,290.29 L399.50,290.42 L400.20,290.73 L400.90,290.97 L401.60,291.09 L402.30,290.08 L403.00,290.30 L403.70,290.55 L404.40,290.76 L405.10,290.50 L405.80,290.33 L406.50,290.23 L407.20,290.61 L407.90,290.84 L408.60,291.60 L409.30,291.54 L410.00,291.51 L410.70,291.69 L411.40,291.69 L412.10,291.24 L412.80,291.52 L413.50,290.49 L414.20,291.37 L414.90,291.29 L415.60,290.87 L416.30,291.27 L417.00,291.81 L417.70,291.16 L418.40,291.40 L419.10,290.92 L419.80,290.98 L420.50,291.74 L421.20,290.53 L421.90,290.75 L422.60,291.43 L423.30,291.09 L424.00,290.57 L424.70,291.36 L425.40,290.94 L426.10,291.21 L426.80,290.96 L427.50,291.10 L428.20,291.13 L428.90,290.88 L429.60,290.47 L430.30,290.55 L431.00,291.52 L431.70,291.03 L432.40,290.40 L433.10,291.43 L433.80,290.56 L434.50,290.32 L435.20,290.91 L435.90,290.51 L436.60,290.82 L437.30,290.90 L438.00,290.43 L438.70,290.91 L439.40,290.26 L440.10,290.82 L440.80,290.93 L441.50,290.22 L442.20,290.69 L442.90,290.24 L443.60,290.77 L444.30,291.38 L445.00,290.96 L445.70,291.21 L446.40,291.29 L447.10,290.40 L447.80,291.65 L448.50,291.29 L449.20,290.43 L449.90,291.46 L450.60,290.85 L451.30,290.55 L452.00,291.66 L452.70,291.10 L453.40,291.40 L454.10,290.51 L454.80,291.40 L455.50,290.39 L456.20,290.64 L456.90,290.83 L457.60,290.32 L458.30,291.13 L459.00,290.60 L459.70,290.72 L460.40,291.29 L461.10,290.89 L461.80,291.54 L462.50,291.16 L463.20,291.51 L463.90,291.07 L464.60,291.57 L465.30,291.50 L466.00,290.51 L466.70,291.32 L467.40,290.75 L468.10,291.34 L468.80,291.22 L469.50,291.42 L470.20,290.44 L470.90,290.79 L471.60,291.30 L472.30,291.60 L473.00,291.28 L473.70,290.34 L474.40,291.14 L475.10,290.44 L475.80,291.09 L476.50,291.46 L477.20,290.51 L477.90,291.68 L478.60,291.35 L479.30,290.79 L480.00,290.74 L480.70,291.13 L481.40,291.72 L482.10,291.41 L482.80,290.80 L483.50,290.72 L484.20,290.90 L484.90,291.91 L485.60,291.11 L486.30,291.68 L487.00,291.37 L487.70,291.98 L488.40,291.62 L489.10,291.35 L489.80,292.44 L490.50,292.04 L491.20,292.33 L491.90,292.57 L492.60,292.84 L493.30,291.61 L494.00,292.16 L494.70,291.97 L495.40,292.55 L496.10,293.17 L496.80,293.16 L497.50,292.20 L498.20,292.51 L498.90,293.50 L499.60,293.42 L500.30,293.13 L501.00,293.36 L501.70,293.02 L502.40,294.09 L503.10,293.57 L503.80,294.35 L504.50,294.08 L505.20,293.43 L505.90,293.88 L506.60,293.82 L507.30,294.86 L508.00,294.53 L508.70,293.85 L509.40,294.12 L510.10,294.47 L510.80,294.70 L511.50,294.94 L512.20,294.75 L512.90,294.78 L513.60,294.37 L514.30,295.25 L515.00,294.97 L515.70,294.60 L516.40,295.28 L517.10,296.08 L517.80,294.82 L518.50,295.03 L519.20,295.84 L519.90,295.35 L520.60,295.44 L521.30,295.84 L522.00,295.60 L522.70,296.13 L523.40,296.18 L524.10,296.89 L524.80,297.05 L525.50,295.82 L526.20,296.67 L526.90,297.08 L527.60,297.33 L528.30,297.29 L529.00,297.19 L529.70,297.28 L530.40,296.98 L531.10,296.94 L531.80,297.74 L532.50,297.92 L533.20,298.08 L533.90,297.79 L534.60,297.34 L535.30,298.05 L536.00,298.08" fill="none" stroke="#3f9a37" stroke-width="1.5" stroke-linejoin="round"/>
<path d="M323.20,296.97 L323.90,296.99 L324.60,296.43 L325.30,296.55 L326.00,296.19 L326.70,295.55 L327.40,295.79 L328.10,295.62 L328.80,296.41 L329.50,295.56 L330.20,295.29 L330.90,295.03 L331.60,294.97 L332.30,295.11 L333.00,294.79 L333.70,294.56 L334.40,295.67 L335.10,294.90 L335.80,294.64 L336.50,294.51 L337.20,293.79 L337.90,293.22 L338.60,292.69 L339.30,292.62 L340.00,292.23 L340.70,292.41 L341.40,291.74 L342.10,291.84 L342.80,290.56 L343.50,290.93 L344.20,290.05 L344.90,288.96 L345.60,288.77 L346.30,289.02 L347.00,289.31 L347.70,288.16 L348.40,288.49 L349.10,287.75 L349.80,288.09 L350.50,286.69 L351.20,286.98 L351.90,287.26 L352.60,286.09 L353.30,285.78 L354.00,285.18 L354.70,285.13 L355.40,285.06 L356.10,285.51 L356.80,284.70 L357.50,284.84 L358.20,284.43 L358.90,284.83 L359.60,284.97 L360.30,284.36 L361.00,283.34 L361.70,283.63 L362.40,283.45 L363.10,282.43 L363.80,281.20 L364.50,281.74 L365.20,281.41 L365.90,280.27 L366.60,279.62 L367.30,279.33 L368.00,279.48 L368.70,279.62 L369.40,278.97 L370.10,279.05 L370.80,277.75 L371.50,277.62 L372.20,277.93 L372.90,277.52 L373.60,276.91 L374.30,277.03 L375.00,276.27 L375.70,275.59 L376.40,275.79 L377.10,274.97 L377.80,275.49 L378.50,274.79 L379.20,274.76 L379.90,274.67 L380.60,273.99 L381.30,274.09 L382.00,273.30 L382.70,274.43 L383.40,273.80 L384.10,274.29 L384.80,272.90 L385.50,273.62 L386.20,273.75 L386.90,273.19 L387.60,272.87 L388.30,272.98 L389.00,272.98 L389.70,273.87 L390.40,272.92 L391.10,273.93 L391.80,273.37 L392.50,273.52 L393.20,273.59 L393.90,273.54 L394.60,273.70 L395.30,273.66 L396.00,273.33 L396.70,273.98 L397.40,273.39 L398.10,274.10 L398.80,274.25 L399.50,274.34 L400.20,273.75 L400.90,274.46 L401.60,274.80 L402.30,274.12 L403.00,273.92 L403.70,274.32 L404.40,274.95 L405.10,273.87 L405.80,273.75 L406.50,274.46 L407.20,274.77 L407.90,274.99 L408.60,274.48 L409.30,275.42 L410.00,274.42 L410.70,275.23 L411.40,274.38 L412.10,274.37 L412.80,274.60 L413.50,274.58 L414.20,275.29 L414.90,275.45 L415.60,275.02 L416.30,276.17 L417.00,275.45 L417.70,275.24 L418.40,275.36 L419.10,276.23 L419.80,276.57 L420.50,275.58 L421.20,275.48 L421.90,276.61 L422.60,275.95 L423.30,277.07 L424.00,276.48 L424.70,276.76 L425.40,276.43 L426.10,277.15 L426.80,276.74 L427.50,276.61 L428.20,277.48 L428.90,276.41 L429.60,277.31 L430.30,276.39 L431.00,277.21 L431.70,276.84 L432.40,277.45 L433.10,276.27 L433.80,276.92 L434.50,276.64 L435.20,277.29 L435.90,277.26 L436.60,276.76 L437.30,276.15 L438.00,276.15 L438.70,276.15 L439.40,276.39 L440.10,276.13 L440.80,276.14 L441.50,276.99 L442.20,276.92 L442.90,276.54 L443.60,277.63 L444.30,276.66 L445.00,277.28 L445.70,276.84 L446.40,277.96 L447.10,278.09 L447.80,277.37 L448.50,278.16 L449.20,278.36 L449.90,277.68 L450.60,277.82 L451.30,278.08 L452.00,278.70 L452.70,277.71 L453.40,278.46 L454.10,278.36 L454.80,278.18 L455.50,278.37 L456.20,278.82 L456.90,277.90 L457.60,278.87 L458.30,278.18 L459.00,278.81 L459.70,278.98 L460.40,278.10 L461.10,279.13 L461.80,279.40 L462.50,278.52 L463.20,278.23 L463.90,278.46 L464.60,279.78 L465.30,278.54 L466.00,279.91 L466.70,278.97 L467.40,279.90 L468.10,279.12 L468.80,279.34 L469.50,280.17 L470.20,279.46 L470.90,279.92 L471.60,280.84 L472.30,280.66 L473.00,281.00 L473.70,281.25 L474.40,280.03 L475.10,280.43 L475.80,281.32 L476.50,281.30 L477.20,280.51 L477.90,281.29 L478.60,281.04 L479.30,281.46 L480.00,281.15 L480.70,281.19 L481.40,282.71 L482.10,281.94 L482.80,282.90 L483.50,282.03 L484.20,282.73 L484.90,282.43 L485.60,283.03 L486.30,282.87 L487.00,283.77 L487.70,283.21 L488.40,284.22 L489.10,284.07 L489.80,283.71 L490.50,284.22 L491.20,284.58 L491.90,285.34 L492.60,284.70 L493.30,284.67 L494.00,285.89 L494.70,285.92 L495.40,285.87 L496.10,285.38 L496.80,285.41 L497.50,285.69 L498.20,285.57 L498.90,285.70 L499.60,286.52 L500.30,286.55 L501.00,286.94 L501.70,286.87 L502.40,286.60 L503.10,287.77 L503.80,287.92 L504.50,287.95 L505.20,288.11 L505.90,288.45 L506.60,288.99 L507.30,288.97 L508.00,288.88 L508.70,288.55 L509.40,288.56 L510.10,288.81 L510.80,289.70 L511.50,289.00 L512.20,289.11 L512.90,289.26 L513.60,288.99 L514.30,290.29 L515.00,289.00 L515.70,289.94 L516.40,290.48 L517.10,289.63 L517.80,290.23 L518.50,290.00 L519.20,289.92 L519.90,289.98 L520.60,289.99 L521.30,291.14 L522.00,291.21 L522.70,291.55 L523.40,290.52 L524.10,291.60 L524.80,291.27 L525.50,291.91 L526.20,291.96 L526.90,291.82 L527.60,292.92 L528.30,291.73 L529.00,292.94 L529.70,293.25 L530.40,292.93 L531.10,293.20 L531.80,293.91 L532.50,293.00 L533.20,293.70 L533.90,294.00 L534.60,293.64 L535.30,294.25 L536.00,293.95" fill="none" stroke="#c23ad8" stroke-width="1.5" stroke-linejoin="round"/>
<path d="M323.20,295.95 L323.90,295.78 L324.60,295.57 L325.30,294.78 L326.00,294.92 L326.70,294.50 L327.40,293.75 L328.10,294.00 L328.80,293.21 L329.50,293.80 L330.20,292.87 L330.90,292.90 L331.60,292.30 L332.30,291.90 L333.00,291.21 L333.70,290.73 L334.40,291.45 L335.10,290.48 L335.80,290.03 L336.50,289.56 L337.20,289.47 L337.90,288.15 L338.60,287.55 L339.30,287.95 L340.00,286.94 L340.70,286.69 L341.40,286.44 L342.10,286.01 L342.80,285.45 L343.50,283.80 L344.20,283.81 L344.90,284.02 L345.60,283.64 L346.30,282.37 L347.00,282.16 L347.70,282.05 L348.40,281.60 L349.10,281.70 L349.80,282.02 L350.50,281.27 L351.20,280.79 L351.90,279.87 L352.60,279.87 L353.30,280.28 L354.00,279.41 L354.70,278.62 L355.40,278.22 L356.10,278.23 L356.80,277.73 L357.50,276.43 L358.20,276.72 L358.90,275.80 L359.60,275.52 L360.30,274.60 L361.00,274.24 L361.70,273.63 L362.40,273.09 L363.10,271.98 L363.80,271.63 L364.50,271.53 L365.20,270.20 L365.90,269.74 L366.60,269.84 L367.30,268.55 L368.00,267.96 L368.70,267.21 L369.40,267.44 L370.10,265.86 L370.80,266.12 L371.50,265.98 L372.20,264.63 L372.90,264.54 L373.60,264.67 L374.30,264.05 L375.00,263.32 L375.70,262.48 L376.40,262.66 L377.10,262.18 L377.80,262.30 L378.50,261.37 L379.20,261.21 L379.90,261.25 L380.60,261.20 L381.30,260.31 L382.00,260.12 L382.70,260.18 L383.40,260.47 L384.10,259.27 L384.80,260.20 L385.50,259.71 L386.20,259.14 L386.90,259.49 L387.60,258.97 L388.30,258.57 L389.00,259.47 L389.70,258.87 L390.40,258.97 L391.10,258.80 L391.80,259.22 L392.50,258.86 L393.20,257.68 L393.90,258.33 L394.60,258.01 L395.30,257.90 L396.00,258.33 L396.70,257.64 L397.40,257.63 L398.10,258.14 L398.80,257.46 L399.50,257.50 L400.20,257.52 L400.90,257.99 L401.60,257.85 L402.30,258.04 L403.00,257.66 L403.70,257.25 L404.40,258.22 L405.10,258.08 L405.80,258.37 L406.50,258.34 L407.20,257.38 L407.90,257.47 L408.60,257.22 L409.30,258.23 L410.00,257.24 L410.70,257.27 L411.40,258.28 L412.10,258.11 L412.80,257.50 L413.50,258.49 L414.20,258.66 L414.90,258.46 L415.60,257.99 L416.30,259.02 L417.00,258.79 L417.70,259.17 L418.40,259.90 L419.10,259.79 L419.80,259.99 L420.50,259.07 L421.20,259.42 L421.90,259.75 L422.60,259.10 L423.30,260.53 L424.00,259.59 L424.70,259.64 L425.40,259.78 L426.10,259.77 L426.80,260.68 L427.50,260.33 L428.20,260.34 L428.90,260.28 L429.60,259.83 L430.30,260.26 L431.00,261.16 L431.70,261.21 L432.40,261.42 L433.10,260.69 L433.80,260.67 L434.50,260.44 L435.20,260.99 L435.90,260.49 L436.60,260.21 L437.30,259.78 L438.00,259.44 L438.70,258.72 L439.40,259.04 L440.10,258.08 L440.80,259.16 L441.50,258.85 L442.20,258.44 L442.90,259.17 L443.60,259.86 L444.30,260.05 L445.00,260.59 L445.70,260.54 L446.40,260.76 L447.10,261.79 L447.80,261.38 L448.50,262.25 L449.20,262.64 L449.90,262.59 L450.60,262.63 L451.30,263.51 L452.00,263.02 L452.70,263.81 L453.40,262.83 L454.10,263.52 L454.80,263.95 L455.50,263.26 L456.20,264.51 L456.90,263.50 L457.60,264.32 L458.30,263.82 L459.00,264.94 L459.70,264.54 L460.40,264.99 L461.10,264.67 L461.80,265.02 L462.50,265.13 L463.20,264.73 L463.90,264.77 L464.60,265.84 L465.30,265.12 L466.00,266.50 L466.70,265.85 L467.40,266.07 L468.10,266.45 L468.80,267.80 L469.50,268.39 L470.20,267.97 L470.90,268.61 L471.60,268.34 L472.30,269.52 L473.00,269.48 L473.70,269.01 L474.40,269.14 L475.10,270.31 L475.80,269.68 L476.50,271.07 L477.20,270.59 L477.90,270.79 L478.60,271.55 L479.30,271.47 L480.00,272.08 L480.70,271.79 L481.40,273.13 L482.10,272.58 L482.80,273.58 L483.50,272.89 L484.20,274.08 L484.90,274.63 L485.60,274.11 L486.30,273.92 L487.00,274.72 L487.70,275.41 L488.40,275.15 L489.10,275.93 L489.80,275.64 L490.50,276.49 L491.20,277.22 L491.90,277.16 L492.60,277.88 L493.30,277.45 L494.00,278.80 L494.70,278.14 L495.40,279.57 L496.10,279.96 L496.80,280.16 L497.50,279.85 L498.20,279.78 L498.90,280.11 L499.60,280.91 L500.30,280.80 L501.00,281.63 L501.70,280.67 L502.40,281.42 L503.10,282.15 L503.80,281.98 L504.50,282.11 L505.20,281.68 L505.90,281.96 L506.60,282.35 L507.30,283.43 L508.00,283.56 L508.70,282.90 L509.40,284.09 L510.10,283.05 L510.80,284.05 L511.50,284.78 L512.20,284.13 L512.90,285.19 L513.60,285.02 L514.30,284.40 L515.00,285.04 L515.70,285.45 L516.40,285.41 L517.10,286.35 L517.80,285.81 L518.50,286.91 L519.20,286.48 L519.90,286.41 L520.60,287.34 L521.30,286.94 L522.00,287.82 L522.70,288.40 L523.40,288.38 L524.10,288.44 L524.80,288.09 L525.50,289.01 L526.20,288.67 L526.90,289.69 L527.60,289.21 L528.30,290.07 L529.00,289.99 L529.70,290.26 L530.40,290.89 L531.10,290.42 L531.80,290.65 L532.50,291.96 L533.20,291.32 L533.90,292.26 L534.60,292.52 L535.30,292.19 L536.00,291.95" fill="none" stroke="#2f2fd0" stroke-width="1.5" stroke-linejoin="round"/>
<path d="M323.20,293.30 L323.90,293.94 L324.60,292.41 L325.30,292.48 L326.00,292.08 L326.70,291.04 L327.40,291.07 L328.10,290.20 L328.80,290.28 L329.50,289.81 L330.20,289.20 L330.90,288.58 L331.60,288.51 L332.30,287.89 L333.00,287.46 L333.70,287.29 L334.40,287.84 L335.10,286.95 L335.80,287.14 L336.50,285.58 L337.20,286.55 L337.90,285.55 L338.60,285.55 L339.30,284.72 L340.00,284.26 L340.70,282.82 L341.40,282.61 L342.10,280.73 L342.80,279.79 L343.50,278.39 L344.20,277.88 L344.90,277.15 L345.60,276.04 L346.30,276.15 L347.00,274.34 L347.70,274.41 L348.40,273.33 L349.10,273.29 L349.80,273.04 L350.50,272.47 L351.20,271.17 L351.90,271.09 L352.60,271.28 L353.30,271.52 L354.00,269.89 L354.70,270.33 L355.40,270.03 L356.10,269.80 L356.80,268.73 L357.50,268.96 L358.20,267.99 L358.90,268.09 L359.60,266.20 L360.30,266.80 L361.00,265.28 L361.70,264.44 L362.40,263.12 L363.10,262.44 L363.80,262.20 L364.50,261.20 L365.20,259.54 L365.90,258.91 L366.60,257.73 L367.30,256.88 L368.00,255.97 L368.70,255.22 L369.40,255.30 L370.10,254.60 L370.80,253.67 L371.50,252.66 L372.20,252.14 L372.90,252.02 L373.60,251.68 L374.30,250.92 L375.00,250.19 L375.70,248.96 L376.40,248.92 L377.10,248.58 L377.80,247.84 L378.50,246.22 L379.20,246.48 L379.90,245.37 L380.60,244.55 L381.30,245.12 L382.00,244.17 L382.70,243.76 L383.40,242.43 L384.10,242.96 L384.80,242.72 L385.50,242.33 L386.20,241.83 L386.90,241.71 L387.60,241.46 L388.30,240.99 L389.00,240.61 L389.70,241.02 L390.40,240.83 L391.10,240.84 L391.80,239.97 L392.50,240.83 L393.20,240.18 L393.90,240.72 L394.60,239.50 L395.30,240.63 L396.00,240.32 L396.70,239.52 L397.40,240.29 L398.10,239.39 L398.80,239.27 L399.50,239.53 L400.20,239.09 L400.90,239.27 L401.60,239.63 L402.30,239.08 L403.00,238.87 L403.70,238.19 L404.40,238.54 L405.10,238.39 L405.80,238.12 L406.50,238.38 L407.20,238.14 L407.90,237.49 L408.60,237.00 L409.30,237.75 L410.00,237.97 L410.70,237.25 L411.40,237.58 L412.10,237.91 L412.80,237.85 L413.50,236.75 L414.20,237.45 L414.90,236.82 L415.60,236.99 L416.30,238.02 L417.00,237.53 L417.70,237.86 L418.40,237.73 L419.10,237.64 L419.80,237.57 L420.50,237.88 L421.20,238.73 L421.90,238.60 L422.60,238.33 L423.30,238.21 L424.00,238.61 L424.70,239.28 L425.40,238.85 L426.10,238.82 L426.80,238.50 L427.50,237.05 L428.20,237.84 L428.90,238.04 L429.60,240.19 L430.30,239.67 L431.00,239.98 L431.70,241.07 L432.40,240.31 L433.10,240.16 L433.80,241.11 L434.50,240.69 L435.20,241.02 L435.90,240.14 L436.60,240.01 L437.30,240.33 L438.00,239.38 L438.70,239.81 L439.40,238.56 L440.10,239.49 L440.80,238.77 L441.50,239.64 L442.20,239.37 L442.90,240.13 L443.60,241.73 L444.30,241.53 L445.00,242.43 L445.70,241.98 L446.40,242.42 L447.10,242.35 L447.80,243.25 L448.50,243.94 L449.20,243.71 L449.90,243.79 L450.60,244.84 L451.30,245.07 L452.00,245.03 L452.70,244.49 L453.40,245.53 L454.10,245.56 L454.80,246.56 L455.50,246.00 L456.20,246.67 L456.90,246.88 L457.60,246.77 L458.30,247.24 L459.00,247.75 L459.70,248.41 L460.40,248.23 L461.10,248.49 L461.80,249.84 L462.50,249.07 L463.20,250.68 L463.90,250.99 L464.60,251.31 L465.30,251.62 L466.00,252.47 L466.70,253.07 L467.40,253.23 L468.10,253.66 L468.80,253.07 L469.50,253.92 L470.20,254.14 L470.90,255.81 L471.60,256.29 L472.30,255.83 L473.00,257.05 L473.70,257.61 L474.40,257.42 L475.10,258.42 L475.80,259.38 L476.50,259.66 L477.20,259.55 L477.90,260.62 L478.60,260.36 L479.30,261.13 L480.00,261.39 L480.70,262.63 L481.40,262.65 L482.10,263.36 L482.80,263.68 L483.50,263.77 L484.20,265.08 L484.90,265.22 L485.60,265.69 L486.30,265.60 L487.00,265.94 L487.70,267.01 L488.40,267.85 L489.10,268.29 L489.80,268.15 L490.50,268.34 L491.20,269.33 L491.90,270.31 L492.60,269.77 L493.30,271.04 L494.00,270.70 L494.70,271.35 L495.40,271.42 L496.10,272.19 L496.80,272.73 L497.50,273.96 L498.20,274.36 L498.90,273.69 L499.60,274.29 L500.30,275.61 L501.00,275.02 L501.70,275.67 L502.40,276.31 L503.10,276.31 L503.80,276.97 L504.50,277.58 L505.20,277.94 L505.90,279.08 L506.60,278.40 L507.30,278.59 L508.00,279.83 L508.70,279.44 L509.40,280.24 L510.10,280.23 L510.80,280.71 L511.50,280.33 L512.20,280.38 L512.90,281.51 L513.60,281.38 L514.30,281.79 L515.00,282.24 L515.70,282.64 L516.40,282.26 L517.10,282.66 L517.80,283.73 L518.50,283.48 L519.20,283.45 L519.90,284.25 L520.60,284.07 L521.30,285.14 L522.00,284.49 L522.70,285.97 L523.40,286.01 L524.10,286.11 L524.80,287.34 L525.50,286.80 L526.20,287.17 L526.90,287.32 L527.60,288.37 L528.30,289.02 L529.00,289.25 L529.70,289.19 L530.40,290.03 L531.10,289.34 L531.80,289.88 L532.50,290.61 L533.20,291.31 L533.90,291.09 L534.60,291.41 L535.30,291.77 L536.00,291.47" fill="none" stroke="#c83a34" stroke-width="1.5" stroke-linejoin="round"/>
<path d="M323.20,293.97 L323.90,293.19 L324.60,292.12 L325.30,291.68 L326.00,291.75 L326.70,290.61 L327.40,289.88 L328.10,290.34 L328.80,289.37 L329.50,288.87 L330.20,288.61 L330.90,288.50 L331.60,287.01 L332.30,286.92 L333.00,286.16 L333.70,286.24 L334.40,285.93 L335.10,285.92 L335.80,285.11 L336.50,284.40 L337.20,283.54 L337.90,283.14 L338.60,282.06 L339.30,282.18 L340.00,281.40 L340.70,280.77 L341.40,279.10 L342.10,279.10 L342.80,278.47 L343.50,277.33 L344.20,277.06 L344.90,276.19 L345.60,275.00 L346.30,274.04 L347.00,272.66 L347.70,271.83 L348.40,269.66 L349.10,269.43 L349.80,268.52 L350.50,267.65 L351.20,266.60 L351.90,265.82 L352.60,266.15 L353.30,266.06 L354.00,264.88 L354.70,264.32 L355.40,263.80 L356.10,263.06 L356.80,263.32 L357.50,263.16 L358.20,262.30 L358.90,261.01 L359.60,260.74 L360.30,259.02 L361.00,259.15 L361.70,257.39 L362.40,255.84 L363.10,255.59 L363.80,253.79 L364.50,252.91 L365.20,251.60 L365.90,251.17 L366.60,250.37 L367.30,249.79 L368.00,247.80 L368.70,248.02 L369.40,246.16 L370.10,245.50 L370.80,245.31 L371.50,244.18 L372.20,243.49 L372.90,243.15 L373.60,242.00 L374.30,242.12 L375.00,240.59 L375.70,240.72 L376.40,239.89 L377.10,238.70 L377.80,237.19 L378.50,237.44 L379.20,235.64 L379.90,235.60 L380.60,234.85 L381.30,233.76 L382.00,234.00 L382.70,233.60 L383.40,232.88 L384.10,232.09 L384.80,231.68 L385.50,231.19 L386.20,230.03 L386.90,230.25 L387.60,229.75 L388.30,228.83 L389.00,228.43 L389.70,226.98 L390.40,227.42 L391.10,225.72 L391.80,225.92 L392.50,225.11 L393.20,225.25 L393.90,225.27 L394.60,224.98 L395.30,224.29 L396.00,223.77 L396.70,223.20 L397.40,223.13 L398.10,222.61 L398.80,222.14 L399.50,222.56 L400.20,221.93 L400.90,221.52 L401.60,220.88 L402.30,221.30 L403.00,220.32 L403.70,220.14 L404.40,220.30 L405.10,220.25 L405.80,220.39 L406.50,219.84 L407.20,219.91 L407.90,219.66 L408.60,219.18 L409.30,218.99 L410.00,217.89 L410.70,217.92 L411.40,217.50 L412.10,218.55 L412.80,218.22 L413.50,217.97 L414.20,217.32 L414.90,217.32 L415.60,216.91 L416.30,217.43 L417.00,217.79 L417.70,216.69 L418.40,216.18 L419.10,216.23 L419.80,216.34 L420.50,216.95 L421.20,216.64 L421.90,215.97 L422.60,215.29 L423.30,215.14 L424.00,215.09 L424.70,215.90 L425.40,215.47 L426.10,216.27 L426.80,216.29 L427.50,216.29 L428.20,216.02 L428.90,216.69 L429.60,215.89 L430.30,216.02 L431.00,216.80 L431.70,216.89 L432.40,216.63 L433.10,216.85 L433.80,216.66 L434.50,218.01 L435.20,217.81 L435.90,218.16 L436.60,218.18 L437.30,217.36 L438.00,217.73 L438.70,217.22 L439.40,217.85 L440.10,218.00 L440.80,217.17 L441.50,217.19 L442.20,217.71 L442.90,218.50 L443.60,218.53 L444.30,218.39 L445.00,219.96 L445.70,220.41 L446.40,220.56 L447.10,220.63 L447.80,222.50 L448.50,222.69 L449.20,222.71 L449.90,223.67 L450.60,224.63 L451.30,225.48 L452.00,225.38 L452.70,226.04 L453.40,225.89 L454.10,226.44 L454.80,227.91 L455.50,227.78 L456.20,228.06 L456.90,229.44 L457.60,229.52 L458.30,230.36 L459.00,231.45 L459.70,232.33 L460.40,233.07 L461.10,233.80 L461.80,234.05 L462.50,234.14 L463.20,235.68 L463.90,235.36 L464.60,236.58 L465.30,237.15 L466.00,238.21 L466.70,238.96 L467.40,239.00 L468.10,240.29 L468.80,241.06 L469.50,241.46 L470.20,241.70 L470.90,243.47 L471.60,243.74 L472.30,243.69 L473.00,244.63 L473.70,246.38 L474.40,246.02 L475.10,246.95 L475.80,248.19 L476.50,248.92 L477.20,249.33 L477.90,250.17 L478.60,249.88 L479.30,250.68 L480.00,252.67 L480.70,253.23 L481.40,253.00 L482.10,253.89 L482.80,255.05 L483.50,256.88 L484.20,256.72 L484.90,258.13 L485.60,259.21 L486.30,259.46 L487.00,260.47 L487.70,260.15 L488.40,260.59 L489.10,261.01 L489.80,262.67 L490.50,262.43 L491.20,264.36 L491.90,264.72 L492.60,264.72 L493.30,266.31 L494.00,266.10 L494.70,267.25 L495.40,267.29 L496.10,268.81 L496.80,269.48 L497.50,270.03 L498.20,269.25 L498.90,270.92 L499.60,271.00 L500.30,271.86 L501.00,271.91 L501.70,272.56 L502.40,273.01 L503.10,273.78 L503.80,273.23 L504.50,273.66 L505.20,274.79 L505.90,274.86 L506.60,275.42 L507.30,275.27 L508.00,276.70 L508.70,276.09 L509.40,277.61 L510.10,278.00 L510.80,277.92 L511.50,277.87 L512.20,279.04 L512.90,278.85 L513.60,279.58 L514.30,279.55 L515.00,281.17 L515.70,280.96 L516.40,281.08 L517.10,281.10 L517.80,282.38 L518.50,282.93 L519.20,283.30 L519.90,282.64 L520.60,283.40 L521.30,283.69 L522.00,284.73 L522.70,284.26 L523.40,285.30 L524.10,286.22 L524.80,286.32 L525.50,285.65 L526.20,286.13 L526.90,286.57 L527.60,287.75 L528.30,287.99 L529.00,288.23 L529.70,288.47 L530.40,288.72 L531.10,289.32 L531.80,289.67 L532.50,290.35 L533.20,290.38 L533.90,290.76 L534.60,291.20 L535.30,291.38 L536.00,291.50" fill="none" stroke="#1c1c1c" stroke-width="1.5" stroke-linejoin="round"/>
<line x1="425.5" y1="213.5" x2="375.8" y2="283.6" stroke="#3f8fe0" stroke-width="2.1" stroke-linecap="round" stroke-dasharray="0.1,3.3"/>
<path d="M371.2,290.1 L372.4,281.2 L374.6,285.2 L379,286.3 Z" fill="#3264cc"/>
<text x="374.6" y="318.3" font-size="13" text-anchor="middle" fill="#1a1a1a" stroke="#1a1a1a" stroke-width="0.4" >500</text>
<text x="439.5" y="318.3" font-size="13" text-anchor="middle" fill="#1a1a1a" stroke="#1a1a1a" stroke-width="0.4" >600</text>
<text x="504.5" y="318.3" font-size="13" text-anchor="middle" fill="#1a1a1a" stroke="#1a1a1a" stroke-width="0.4" >700</text>
<text x="430.5" y="329.8" font-size="13.3" text-anchor="middle" fill="#1a1a1a" stroke="#1a1a1a" stroke-width="0.4" >Wavelength (nm)</text>
<text transform="translate(310.8,243.3) rotate(-90)" font-size="13.3" stroke="#1a1a1a" stroke-width="0.4" text-anchor="middle" fill="#1a1a1a">PL Intensity (a.u.)</text>
<text x="279.6" y="192.5" font-size="13.4" text-anchor="start" fill="#1a1a1a" stroke="#1a1a1a" stroke-width="0.5" >(c)</text>
<line x1="338.3" y1="183.1" x2="360.4" y2="183.1" stroke="#333" stroke-width="1.6"/>
<text x="363.7" y="186.7" font-size="10" text-anchor="start" fill="#1a1a1a" stroke="#1a1a1a" stroke-width="0.4" >GO</text>
<line x1="338.3" y1="195.2" x2="360.4" y2="195.2" stroke="#4040a0" stroke-width="1.6"/>
<text x="363.7" y="198.79999999999998" font-size="10" text-anchor="start" fill="#1a1a1a" stroke="#1a1a1a" stroke-width="0.4" >rGO-Vis-48h</text>
<line x1="338.3" y1="207.29999999999998" x2="360.4" y2="207.29999999999998" stroke="#6aaa60" stroke-width="1.6"/>
<text x="363.7" y="210.89999999999998" font-size="10" text-anchor="start" fill="#1a1a1a" stroke="#1a1a1a" stroke-width="0.4" >rGO-Vis-18day</text>
<line x1="435.4" y1="183.1" x2="457" y2="183.1" stroke="#c04a48" stroke-width="1.6"/>
<text x="459.5" y="186.7" font-size="10" text-anchor="start" fill="#1a1a1a" stroke="#1a1a1a" stroke-width="0.4" >rGO-Vis-5h</text>
<line x1="435.4" y1="195.35" x2="457" y2="195.35" stroke="#b848d0" stroke-width="1.6"/>
<text x="459.5" y="198.95" font-size="10" text-anchor="start" fill="#1a1a1a" stroke="#1a1a1a" stroke-width="0.4" >rGO-Vis-7day</text>
<line x1="435.4" y1="207.6" x2="457" y2="207.6" stroke="#4a4a88" stroke-width="1.6"/>
<text x="459.5" y="211.2" font-size="10" text-anchor="start" fill="#1a1a1a" stroke="#1a1a1a" stroke-width="0.4" >rGO-Vis-23day</text>
<g stroke="#1a1a1a" stroke-width="1.6" fill="none">
<rect x="322.6" y="343.2" width="214.39999999999998" height="127.5"/>
<line x1="342.1" y1="470.7" x2="342.1" y2="468.2"/>
<line x1="374.6" y1="470.7" x2="374.6" y2="468.2"/>
<line x1="407.1" y1="470.7" x2="407.1" y2="468.2"/>
<line x1="439.5" y1="470.7" x2="439.5" y2="468.2"/>
<line x1="472.0" y1="470.7" x2="472.0" y2="468.2"/>
<line x1="504.5" y1="470.7" x2="504.5" y2="468.2"/>
<line x1="537.0" y1="470.7" x2="537.0" y2="468.2"/>
</g>
<path d="M323.00,468.34 L323.70,469.25 L324.40,469.49 L325.10,468.90 L325.80,469.52 L326.50,468.55 L327.20,469.61 L327.90,468.91 L328.60,469.28 L329.30,468.64 L330.00,468.71 L330.70,468.77 L331.40,468.74 L332.10,468.42 L332.80,468.90 L333.50,469.65 L334.20,469.20 L334.90,469.58 L335.60,469.34 L336.30,469.45 L337.00,469.67 L337.70,469.33 L338.40,468.66 L339.10,468.62 L339.80,468.85 L340.50,468.30 L341.20,468.59 L341.90,469.51 L342.60,469.55 L343.30,468.72 L344.00,469.34 L344.70,469.35 L345.40,469.51 L346.10,469.37 L346.80,469.00 L347.50,468.40 L348.20,469.41 L348.90,468.69 L349.60,469.13 L350.30,468.77 L351.00,469.00 L351.70,469.60 L352.40,468.47 L353.10,468.99 L353.80,469.16 L354.50,469.00 L355.20,469.56 L355.90,468.81 L356.60,469.52 L357.30,469.21 L358.00,469.59 L358.70,468.36 L359.40,468.53 L360.10,468.64 L360.80,469.50 L361.50,468.25 L362.20,468.60 L362.90,469.23 L363.60,469.61 L364.30,468.47 L365.00,468.84 L365.70,469.19 L366.40,469.19 L367.10,469.27 L367.80,469.28 L368.50,468.57 L369.20,468.58 L369.90,468.26 L370.60,469.18 L371.30,468.51 L372.00,468.58 L372.70,469.56 L373.40,469.11 L374.10,469.04 L374.80,469.13 L375.50,469.04 L376.20,469.18 L376.90,468.63 L377.60,468.29 L378.30,468.30 L379.00,468.22 L379.70,468.71 L380.40,468.40 L381.10,468.35 L381.80,468.89 L382.50,469.55 L383.20,469.16 L383.90,468.57 L384.60,469.27 L385.30,468.44 L386.00,468.33 L386.70,468.61 L387.40,468.76 L388.10,469.15 L388.80,468.80 L389.50,469.20 L390.20,468.31 L390.90,469.48 L391.60,468.65 L392.30,469.34 L393.00,468.22 L393.70,469.33 L394.40,468.49 L395.10,469.36 L395.80,469.29 L396.50,469.10 L397.20,468.55 L397.90,468.17 L398.60,468.42 L399.30,469.42 L400.00,468.38 L400.70,469.08 L401.40,468.97 L402.10,469.08 L402.80,468.40 L403.50,468.35 L404.20,468.28 L404.90,469.52 L405.60,468.68 L406.30,469.05 L407.00,468.93 L407.70,468.45 L408.40,468.22 L409.10,468.15 L409.80,469.32 L410.50,468.31 L411.20,469.47 L411.90,468.63 L412.60,469.13 L413.30,468.31 L414.00,469.22 L414.70,468.46 L415.40,468.62 L416.10,468.84 L416.80,468.26 L417.50,468.45 L418.20,469.21 L418.90,468.50 L419.60,468.63 L420.30,469.16 L421.00,468.40 L421.70,468.35 L422.40,468.39 L423.10,468.61 L423.80,468.58 L424.50,468.97 L425.20,468.73 L425.90,469.28 L426.60,468.13 L427.30,468.98 L428.00,469.22 L428.70,468.37 L429.40,468.08 L430.10,468.64 L430.80,468.18 L431.50,468.65 L432.20,468.98 L432.90,468.03 L433.60,468.00 L434.30,468.44 L435.00,467.95 L435.70,467.92 L436.40,468.04 L437.10,467.33 L437.80,466.96 L438.50,467.22 L439.20,467.38 L439.90,468.15 L440.60,467.81 L441.30,467.35 L442.00,467.76 L442.70,468.61 L443.40,468.41 L444.10,468.86 L444.80,468.97 L445.50,468.79 L446.20,467.71 L446.90,468.86 L447.60,468.25 L448.30,467.84 L449.00,467.74 L449.70,468.71 L450.40,467.79 L451.10,467.61 L451.80,467.86 L452.50,468.78 L453.20,468.12 L453.90,468.50 L454.60,467.58 L455.30,468.10 L456.00,467.91 L456.70,467.75 L457.40,468.39 L458.10,467.97 L458.80,467.63 L459.50,468.84 L460.20,468.13 L460.90,467.71 L461.60,467.48 L462.30,468.38 L463.00,468.19 L463.70,467.50 L464.40,468.13 L465.10,468.51 L465.80,468.23 L466.50,467.82 L467.20,468.19 L467.90,468.35 L468.60,468.42 L469.30,467.72 L470.00,468.65 L470.70,468.86 L471.40,468.58 L472.10,468.75 L472.80,468.08 L473.50,468.84 L474.20,467.84 L474.90,467.91 L475.60,468.44 L476.30,468.88 L477.00,467.74 L477.70,467.94 L478.40,467.70 L479.10,468.28 L479.80,467.87 L480.50,467.96 L481.20,468.75 L481.90,468.53 L482.60,469.04 L483.30,468.30 L484.00,468.70 L484.70,467.78 L485.40,469.10 L486.10,468.11 L486.80,468.47 L487.50,468.53 L488.20,469.15 L488.90,468.52 L489.60,469.24 L490.30,468.73 L491.00,468.17 L491.70,469.05 L492.40,468.18 L493.10,469.30 L493.80,468.55 L494.50,468.24 L495.20,469.28 L495.90,468.40 L496.60,468.53 L497.30,468.45 L498.00,468.91 L498.70,468.02 L499.40,468.52 L500.10,468.23 L500.80,469.17 L501.50,468.02 L502.20,468.87 L502.90,468.39 L503.60,468.68 L504.30,468.83 L505.00,469.05 L505.70,468.25 L506.40,468.40 L507.10,468.24 L507.80,469.42 L508.50,468.30 L509.20,468.28 L509.90,468.83 L510.60,468.92 L511.30,469.35 L512.00,468.20 L512.70,468.45 L513.40,468.36 L514.10,468.95 L514.80,468.77 L515.50,468.72 L516.20,469.40 L516.90,469.08 L517.60,469.37 L518.30,469.51 L519.00,468.55 L519.70,469.50 L520.40,468.76 L521.10,468.26 L521.80,469.48 L522.50,468.35 L523.20,468.23 L523.90,468.62 L524.60,468.62 L525.30,469.57 L526.00,469.44 L526.70,468.82 L527.40,468.98 L528.10,469.43 L528.80,469.38 L529.50,469.17 L530.20,468.97 L530.90,468.42 L531.60,468.61 L532.30,469.19 L533.00,469.10 L533.70,469.40 L534.40,469.55 L535.10,469.64 L535.80,468.57 L536.50,468.41" fill="none" stroke="#72b462" stroke-width="2.2" stroke-linejoin="round"/>
<path d="M323.00,469.86 L323.70,469.37 L324.40,468.79 L325.10,469.47 L325.80,468.83 L326.50,468.76 L327.20,468.91 L327.90,469.10 L328.60,469.28 L329.30,468.40 L330.00,469.30 L330.70,469.11 L331.40,468.86 L332.10,469.10 L332.80,469.25 L333.50,468.11 L334.20,468.73 L334.90,468.98 L335.60,468.99 L336.30,468.87 L337.00,468.18 L337.70,469.24 L338.40,468.96 L339.10,468.15 L339.80,468.40 L340.50,469.10 L341.20,468.02 L341.90,468.26 L342.60,469.00 L343.30,468.88 L344.00,467.92 L344.70,468.59 L345.40,468.03 L346.10,468.42 L346.80,468.53 L347.50,467.60 L348.20,467.70 L348.90,467.66 L349.60,467.70 L350.30,467.34 L351.00,467.45 L351.70,467.80 L352.40,467.78 L353.10,467.27 L353.80,467.94 L354.50,468.42 L355.20,467.87 L355.90,467.53 L356.60,467.99 L357.30,467.58 L358.00,467.18 L358.70,467.58 L359.40,466.90 L360.10,467.79 L360.80,467.03 L361.50,467.30 L362.20,468.09 L362.90,467.79 L363.60,467.85 L364.30,467.55 L365.00,467.51 L365.70,467.58 L366.40,467.92 L367.10,466.81 L367.80,467.58 L368.50,466.90 L369.20,466.81 L369.90,467.58 L370.60,467.25 L371.30,467.57 L372.00,467.58 L372.70,467.16 L373.40,466.59 L374.10,466.31 L374.80,467.02 L375.50,467.27 L376.20,466.62 L376.90,466.32 L377.60,466.21 L378.30,466.43 L379.00,467.15 L379.70,466.17 L380.40,466.47 L381.10,466.51 L381.80,467.13 L382.50,467.50 L383.20,466.14 L383.90,466.26 L384.60,467.40 L385.30,467.44 L386.00,466.27 L386.70,466.52 L387.40,466.77 L388.10,466.46 L388.80,466.58 L389.50,466.64 L390.20,466.31 L390.90,466.00 L391.60,466.01 L392.30,466.09 L393.00,465.96 L393.70,466.67 L394.40,466.74 L395.10,466.09 L395.80,466.79 L396.50,466.67 L397.20,466.08 L397.90,466.25 L398.60,465.79 L399.30,466.79 L400.00,466.24 L400.70,465.48 L401.40,465.59 L402.10,466.30 L402.80,465.83 L403.50,466.26 L404.20,465.53 L404.90,466.29 L405.60,466.25 L406.30,465.22 L407.00,465.87 L407.70,465.27 L408.40,465.96 L409.10,466.05 L409.80,465.99 L410.50,465.16 L411.20,464.93 L411.90,465.69 L412.60,465.50 L413.30,464.86 L414.00,464.90 L414.70,465.40 L415.40,464.70 L416.10,465.39 L416.80,464.80 L417.50,464.79 L418.20,464.98 L418.90,465.10 L419.60,465.35 L420.30,464.35 L421.00,465.30 L421.70,464.57 L422.40,464.65 L423.10,465.11 L423.80,465.16 L424.50,465.02 L425.20,465.39 L425.90,464.38 L426.60,464.48 L427.30,464.93 L428.00,464.30 L428.70,464.08 L429.40,464.10 L430.10,464.76 L430.80,464.73 L431.50,464.46 L432.20,464.68 L432.90,464.32 L433.60,463.52 L434.30,463.40 L435.00,463.84 L435.70,462.78 L436.40,463.44 L437.10,462.60 L437.80,462.45 L438.50,463.04 L439.20,462.49 L439.90,463.58 L440.60,463.55 L441.30,463.06 L442.00,462.82 L442.70,462.87 L443.40,463.54 L444.10,463.65 L444.80,463.52 L445.50,464.12 L446.20,463.96 L446.90,464.39 L447.60,463.51 L448.30,463.49 L449.00,463.94 L449.70,464.07 L450.40,463.73 L451.10,464.29 L451.80,463.64 L452.50,463.74 L453.20,463.93 L453.90,464.23 L454.60,464.27 L455.30,463.67 L456.00,463.74 L456.70,464.37 L457.40,464.33 L458.10,463.85 L458.80,463.09 L459.50,463.54 L460.20,463.74 L460.90,463.19 L461.60,462.79 L462.30,464.04 L463.00,463.87 L463.70,462.70 L464.40,463.11 L465.10,463.27 L465.80,462.78 L466.50,462.42 L467.20,463.36 L467.90,463.38 L468.60,462.92 L469.30,462.44 L470.00,462.88 L470.70,462.49 L471.40,463.73 L472.10,462.48 L472.80,462.85 L473.50,463.55 L474.20,462.70 L474.90,462.70 L475.60,462.69 L476.30,462.86 L477.00,463.41 L477.70,463.86 L478.40,462.97 L479.10,463.01 L479.80,463.86 L480.50,463.41 L481.20,463.32 L481.90,463.04 L482.60,463.23 L483.30,464.27 L484.00,463.09 L484.70,463.31 L485.40,464.01 L486.10,464.24 L486.80,464.27 L487.50,463.69 L488.20,464.39 L488.90,463.91 L489.60,463.49 L490.30,463.76 L491.00,464.13 L491.70,464.18 L492.40,463.36 L493.10,463.47 L493.80,464.57 L494.50,463.40 L495.20,464.41 L495.90,463.77 L496.60,463.66 L497.30,463.70 L498.00,464.01 L498.70,464.76 L499.40,463.60 L500.10,464.60 L500.80,463.86 L501.50,463.65 L502.20,464.44 L502.90,463.87 L503.60,463.64 L504.30,463.95 L505.00,464.51 L505.70,464.56 L506.40,464.15 L507.10,463.36 L507.80,464.43 L508.50,464.23 L509.20,464.67 L509.90,464.79 L510.60,463.97 L511.30,464.77 L512.00,464.80 L512.70,464.10 L513.40,464.32 L514.10,464.41 L514.80,464.47 L515.50,464.58 L516.20,464.29 L516.90,464.52 L517.60,465.54 L518.30,464.90 L519.00,465.26 L519.70,465.66 L520.40,465.52 L521.10,464.85 L521.80,465.83 L522.50,465.71 L523.20,466.00 L523.90,465.67 L524.60,465.74 L525.30,465.86 L526.00,465.11 L526.70,465.70 L527.40,465.35 L528.10,466.03 L528.80,465.07 L529.50,465.67 L530.20,465.42 L530.90,466.13 L531.60,465.49 L532.30,466.22 L533.00,466.26 L533.70,466.33 L534.40,465.33 L535.10,466.47 L535.80,466.23 L536.50,466.15" fill="none" stroke="#c23ad8" stroke-width="1.45" stroke-linejoin="round"/>
<path d="M323.00,468.41 L323.70,467.57 L324.40,468.73 L325.10,468.28 L325.80,468.16 L326.50,468.00 L327.20,468.63 L327.90,468.63 L328.60,468.76 L329.30,467.85 L330.00,468.03 L330.70,467.91 L331.40,467.70 L332.10,468.02 L332.80,467.61 L333.50,468.69 L334.20,467.89 L334.90,467.67 L335.60,467.67 L336.30,468.61 L337.00,467.84 L337.70,468.21 L338.40,468.11 L339.10,468.66 L339.80,468.86 L340.50,467.94 L341.20,468.36 L341.90,468.70 L342.60,468.06 L343.30,468.61 L344.00,468.32 L344.70,467.66 L345.40,468.37 L346.10,467.86 L346.80,467.12 L347.50,467.71 L348.20,467.96 L348.90,467.44 L349.60,467.31 L350.30,467.15 L351.00,467.74 L351.70,467.39 L352.40,466.71 L353.10,466.89 L353.80,466.86 L354.50,467.67 L355.20,467.28 L355.90,466.45 L356.60,467.53 L357.30,466.28 L358.00,467.03 L358.70,466.78 L359.40,467.15 L360.10,466.70 L360.80,466.19 L361.50,466.73 L362.20,467.07 L362.90,466.93 L363.60,466.21 L364.30,465.89 L365.00,466.47 L365.70,466.40 L366.40,465.45 L367.10,466.26 L367.80,466.32 L368.50,465.45 L369.20,465.30 L369.90,465.69 L370.60,465.93 L371.30,464.85 L372.00,464.93 L372.70,464.91 L373.40,465.42 L374.10,464.60 L374.80,465.04 L375.50,464.91 L376.20,465.08 L376.90,464.27 L377.60,465.33 L378.30,465.31 L379.00,464.61 L379.70,464.84 L380.40,463.88 L381.10,464.79 L381.80,464.18 L382.50,464.37 L383.20,464.40 L383.90,463.58 L384.60,464.25 L385.30,463.13 L386.00,462.76 L386.70,463.32 L387.40,463.76 L388.10,463.65 L388.80,463.62 L389.50,462.90 L390.20,463.38 L390.90,462.76 L391.60,462.08 L392.30,462.66 L393.00,462.80 L393.70,462.17 L394.40,462.32 L395.10,461.74 L395.80,461.67 L396.50,461.77 L397.20,461.80 L397.90,461.63 L398.60,461.00 L399.30,460.78 L400.00,461.14 L400.70,461.56 L401.40,461.50 L402.10,460.68 L402.80,460.60 L403.50,460.86 L404.20,460.28 L404.90,460.77 L405.60,461.08 L406.30,459.99 L407.00,460.42 L407.70,460.50 L408.40,460.43 L409.10,460.26 L409.80,460.15 L410.50,459.42 L411.20,460.09 L411.90,460.09 L412.60,458.75 L413.30,459.88 L414.00,459.05 L414.70,458.43 L415.40,458.28 L416.10,459.17 L416.80,458.87 L417.50,457.99 L418.20,458.31 L418.90,458.42 L419.60,458.79 L420.30,457.72 L421.00,458.18 L421.70,457.30 L422.40,457.07 L423.10,456.85 L423.80,457.01 L424.50,457.09 L425.20,456.43 L425.90,456.01 L426.60,455.87 L427.30,455.48 L428.00,455.46 L428.70,455.49 L429.40,455.66 L430.10,455.16 L430.80,455.54 L431.50,455.45 L432.20,456.15 L432.90,455.39 L433.60,455.92 L434.30,455.09 L435.00,454.49 L435.70,454.79 L436.40,453.91 L437.10,453.69 L437.80,453.33 L438.50,454.03 L439.20,454.26 L439.90,453.36 L440.60,453.21 L441.30,453.24 L442.00,453.09 L442.70,453.53 L443.40,453.07 L444.10,452.71 L444.80,453.69 L445.50,453.28 L446.20,452.50 L446.90,453.70 L447.60,453.54 L448.30,453.02 L449.00,453.39 L449.70,453.75 L450.40,452.95 L451.10,452.91 L451.80,452.64 L452.50,452.91 L453.20,452.99 L453.90,453.04 L454.60,453.33 L455.30,452.22 L456.00,452.57 L456.70,453.31 L457.40,453.29 L458.10,453.07 L458.80,453.23 L459.50,452.78 L460.20,453.60 L460.90,453.01 L461.60,452.75 L462.30,452.37 L463.00,452.22 L463.70,453.27 L464.40,453.12 L465.10,452.05 L465.80,452.50 L466.50,452.78 L467.20,452.88 L467.90,452.78 L468.60,453.60 L469.30,452.92 L470.00,453.24 L470.70,453.87 L471.40,453.53 L472.10,453.37 L472.80,453.23 L473.50,453.37 L474.20,453.75 L474.90,454.06 L475.60,453.39 L476.30,453.61 L477.00,453.71 L477.70,453.74 L478.40,454.58 L479.10,454.13 L479.80,453.84 L480.50,453.99 L481.20,454.76 L481.90,453.92 L482.60,454.75 L483.30,453.92 L484.00,454.26 L484.70,454.19 L485.40,455.35 L486.10,454.55 L486.80,454.80 L487.50,454.70 L488.20,455.12 L488.90,455.92 L489.60,456.05 L490.30,456.45 L491.00,456.64 L491.70,456.22 L492.40,456.86 L493.10,455.82 L493.80,457.12 L494.50,456.56 L495.20,456.35 L495.90,457.26 L496.60,457.54 L497.30,457.00 L498.00,456.71 L498.70,457.92 L499.40,457.86 L500.10,457.75 L500.80,458.39 L501.50,457.17 L502.20,457.30 L502.90,457.49 L503.60,457.44 L504.30,458.50 L505.00,458.48 L505.70,457.85 L506.40,458.01 L507.10,458.12 L507.80,458.81 L508.50,458.98 L509.20,459.48 L509.90,458.70 L510.60,459.62 L511.30,458.89 L512.00,458.87 L512.70,458.73 L513.40,458.81 L514.10,460.00 L514.80,460.25 L515.50,460.09 L516.20,459.58 L516.90,459.79 L517.60,459.93 L518.30,460.35 L519.00,461.02 L519.70,460.19 L520.40,460.96 L521.10,461.28 L521.80,460.48 L522.50,461.16 L523.20,461.75 L523.90,461.55 L524.60,461.48 L525.30,462.18 L526.00,461.89 L526.70,461.63 L527.40,461.81 L528.10,462.68 L528.80,462.67 L529.50,462.85 L530.20,462.45 L530.90,461.97 L531.60,462.12 L532.30,462.51 L533.00,463.04 L533.70,462.18 L534.40,463.39 L535.10,463.47 L535.80,463.19 L536.50,462.51" fill="none" stroke="#2f2fd8" stroke-width="1.45" stroke-linejoin="round"/>
<path d="M323.00,467.92 L323.70,467.31 L324.40,467.60 L325.10,467.39 L325.80,467.55 L326.50,467.03 L327.20,467.73 L327.90,467.65 L328.60,467.53 L329.30,467.01 L330.00,466.50 L330.70,466.48 L331.40,466.21 L332.10,466.96 L332.80,466.65 L333.50,466.48 L334.20,466.36 L334.90,466.44 L335.60,465.86 L336.30,465.20 L337.00,465.68 L337.70,464.85 L338.40,465.20 L339.10,464.43 L339.80,465.28 L340.50,464.62 L341.20,464.19 L341.90,464.96 L342.60,463.65 L343.30,464.71 L344.00,464.33 L344.70,463.35 L345.40,464.07 L346.10,463.66 L346.80,463.98 L347.50,463.39 L348.20,463.01 L348.90,463.57 L349.60,462.24 L350.30,463.05 L351.00,461.96 L351.70,462.07 L352.40,461.70 L353.10,462.63 L353.80,461.89 L354.50,462.16 L355.20,461.37 L355.90,461.90 L356.60,461.65 L357.30,460.76 L358.00,461.20 L358.70,461.40 L359.40,460.57 L360.10,461.05 L360.80,460.37 L361.50,460.32 L362.20,460.88 L362.90,460.70 L363.60,460.54 L364.30,459.49 L365.00,459.42 L365.70,459.46 L366.40,459.09 L367.10,458.35 L367.80,458.59 L368.50,457.59 L369.20,457.99 L369.90,456.95 L370.60,456.08 L371.30,456.60 L372.00,455.39 L372.70,455.79 L373.40,454.58 L374.10,455.58 L374.80,454.66 L375.50,454.66 L376.20,453.54 L376.90,453.98 L377.60,453.34 L378.30,452.89 L379.00,453.40 L379.70,452.02 L380.40,452.36 L381.10,451.53 L381.80,452.32 L382.50,452.10 L383.20,450.61 L383.90,450.93 L384.60,450.65 L385.30,450.72 L386.00,450.46 L386.70,449.63 L387.40,450.17 L388.10,448.82 L388.80,448.45 L389.50,449.09 L390.20,447.81 L390.90,447.59 L391.60,447.71 L392.30,447.14 L393.00,446.54 L393.70,447.22 L394.40,446.15 L395.10,446.09 L395.80,444.82 L396.50,445.20 L397.20,443.70 L397.90,444.14 L398.60,443.26 L399.30,443.35 L400.00,442.73 L400.70,442.22 L401.40,441.81 L402.10,442.01 L402.80,441.19 L403.50,440.45 L404.20,441.32 L404.90,440.88 L405.60,440.40 L406.30,440.19 L407.00,439.17 L407.70,439.19 L408.40,439.40 L409.10,439.31 L409.80,438.98 L410.50,437.64 L411.20,438.11 L411.90,437.67 L412.60,437.20 L413.30,436.62 L414.00,436.33 L414.70,436.56 L415.40,436.37 L416.10,435.85 L416.80,435.80 L417.50,435.85 L418.20,435.89 L418.90,435.39 L419.60,434.52 L420.30,435.26 L421.00,434.26 L421.70,434.79 L422.40,434.53 L423.10,433.04 L423.80,433.33 L424.50,433.50 L425.20,432.30 L425.90,432.14 L426.60,431.44 L427.30,430.69 L428.00,430.64 L428.70,430.28 L429.40,430.33 L430.10,430.70 L430.80,430.51 L431.50,430.97 L432.20,430.50 L432.90,429.91 L433.60,430.53 L434.30,429.81 L435.00,429.35 L435.70,429.43 L436.40,428.77 L437.10,427.94 L437.80,427.90 L438.50,427.12 L439.20,427.72 L439.90,426.35 L440.60,427.05 L441.30,425.61 L442.00,425.53 L442.70,426.46 L443.40,426.26 L444.10,427.01 L444.80,426.81 L445.50,428.12 L446.20,428.07 L446.90,428.16 L447.60,428.45 L448.30,428.49 L449.00,428.05 L449.70,428.14 L450.40,427.19 L451.10,427.32 L451.80,427.91 L452.50,428.74 L453.20,427.90 L453.90,428.34 L454.60,427.66 L455.30,428.33 L456.00,429.12 L456.70,428.80 L457.40,429.25 L458.10,428.27 L458.80,428.70 L459.50,428.85 L460.20,429.99 L460.90,429.22 L461.60,430.65 L462.30,430.01 L463.00,431.16 L463.70,430.94 L464.40,430.94 L465.10,432.10 L465.80,431.56 L466.50,432.20 L467.20,431.55 L467.90,432.86 L468.60,433.31 L469.30,432.33 L470.00,433.47 L470.70,433.07 L471.40,433.17 L472.10,433.76 L472.80,434.46 L473.50,435.16 L474.20,435.51 L474.90,435.79 L475.60,435.55 L476.30,435.85 L477.00,435.41 L477.70,436.44 L478.40,436.44 L479.10,436.44 L479.80,437.49 L480.50,436.91 L481.20,437.13 L481.90,437.58 L482.60,438.03 L483.30,439.13 L484.00,439.90 L484.70,439.46 L485.40,440.34 L486.10,440.79 L486.80,441.07 L487.50,441.12 L488.20,441.54 L488.90,441.03 L489.60,441.34 L490.30,442.12 L491.00,442.18 L491.70,443.29 L492.40,442.98 L493.10,444.24 L493.80,443.88 L494.50,444.11 L495.20,445.08 L495.90,445.34 L496.60,445.61 L497.30,446.52 L498.00,446.04 L498.70,446.93 L499.40,447.43 L500.10,447.15 L500.80,447.49 L501.50,448.39 L502.20,448.29 L502.90,448.10 L503.60,448.33 L504.30,448.64 L505.00,449.20 L505.70,449.01 L506.40,449.90 L507.10,449.70 L507.80,449.65 L508.50,450.08 L509.20,450.88 L509.90,450.14 L510.60,450.29 L511.30,450.79 L512.00,451.12 L512.70,452.24 L513.40,452.25 L514.10,452.14 L514.80,452.05 L515.50,452.16 L516.20,452.55 L516.90,453.85 L517.60,453.85 L518.30,453.44 L519.00,454.38 L519.70,453.86 L520.40,454.77 L521.10,454.81 L521.80,454.76 L522.50,455.94 L523.20,456.19 L523.90,456.19 L524.60,456.00 L525.30,456.98 L526.00,456.93 L526.70,457.52 L527.40,456.97 L528.10,458.33 L528.80,457.29 L529.50,457.81 L530.20,458.27 L530.90,458.21 L531.60,458.29 L532.30,459.38 L533.00,460.07 L533.70,459.40 L534.40,459.57 L535.10,460.40 L535.80,460.04 L536.50,460.36" fill="none" stroke="#c63c36" stroke-width="1.45" stroke-linejoin="round"/>
<path d="M323.00,462.76 L323.70,462.07 L324.40,461.35 L325.10,460.90 L325.80,461.23 L326.50,461.52 L327.20,461.09 L327.90,459.60 L328.60,459.82 L329.30,459.45 L330.00,458.68 L330.70,458.98 L331.40,458.35 L332.10,458.40 L332.80,457.26 L333.50,457.74 L334.20,457.14 L334.90,456.22 L335.60,455.30 L336.30,455.33 L337.00,454.39 L337.70,454.72 L338.40,454.27 L339.10,453.61 L339.80,453.63 L340.50,451.74 L341.20,452.03 L341.90,451.44 L342.60,449.72 L343.30,449.23 L344.00,448.05 L344.70,447.98 L345.40,447.37 L346.10,446.06 L346.80,445.75 L347.50,444.46 L348.20,444.12 L348.90,442.69 L349.60,442.89 L350.30,441.39 L351.00,440.10 L351.70,439.63 L352.40,440.00 L353.10,439.74 L353.80,438.99 L354.50,437.89 L355.20,438.45 L355.90,437.72 L356.60,436.30 L357.30,436.04 L358.00,435.78 L358.70,434.14 L359.40,433.47 L360.10,433.17 L360.80,433.16 L361.50,432.59 L362.20,430.91 L362.90,430.98 L363.60,430.05 L364.30,429.40 L365.00,428.23 L365.70,427.99 L366.40,426.74 L367.10,426.36 L367.80,424.98 L368.50,423.58 L369.20,423.15 L369.90,422.26 L370.60,421.28 L371.30,420.64 L372.00,420.24 L372.70,419.83 L373.40,418.83 L374.10,418.43 L374.80,418.25 L375.50,417.70 L376.20,416.89 L376.90,416.20 L377.60,413.55 L378.30,412.41 L379.00,411.03 L379.70,410.83 L380.40,409.93 L381.10,409.29 L381.80,408.25 L382.50,407.25 L383.20,407.65 L383.90,406.57 L384.60,405.92 L385.30,405.36 L386.00,405.08 L386.70,405.07 L387.40,404.77 L388.10,403.82 L388.80,403.64 L389.50,402.34 L390.20,402.06 L390.90,401.28 L391.60,400.55 L392.30,399.95 L393.00,399.85 L393.70,399.20 L394.40,397.87 L395.10,397.31 L395.80,397.49 L396.50,396.74 L397.20,396.21 L397.90,395.62 L398.60,395.20 L399.30,394.16 L400.00,393.46 L400.70,393.51 L401.40,392.72 L402.10,393.70 L402.80,392.78 L403.50,392.65 L404.20,392.71 L404.90,392.08 L405.60,390.84 L406.30,390.55 L407.00,389.78 L407.70,390.30 L408.40,389.80 L409.10,389.08 L409.80,388.59 L410.50,388.17 L411.20,388.24 L411.90,388.34 L412.60,388.40 L413.30,388.15 L414.00,388.00 L414.70,387.21 L415.40,387.01 L416.10,386.69 L416.80,387.46 L417.50,386.23 L418.20,386.10 L418.90,386.27 L419.60,387.21 L420.30,387.09 L421.00,386.20 L421.70,386.57 L422.40,386.12 L423.10,384.92 L423.80,384.06 L424.50,384.45 L425.20,383.65 L425.90,383.32 L426.60,384.71 L427.30,384.49 L428.00,384.86 L428.70,385.44 L429.40,385.06 L430.10,384.57 L430.80,384.79 L431.50,384.41 L432.20,383.49 L432.90,383.62 L433.60,383.85 L434.30,383.09 L435.00,383.62 L435.70,383.84 L436.40,383.73 L437.10,384.10 L437.80,385.60 L438.50,385.95 L439.20,385.81 L439.90,385.88 L440.60,386.97 L441.30,387.20 L442.00,386.41 L442.70,387.09 L443.40,387.30 L444.10,387.25 L444.80,387.20 L445.50,388.00 L446.20,388.88 L446.90,389.27 L447.60,389.61 L448.30,389.54 L449.00,390.13 L449.70,390.73 L450.40,391.34 L451.10,391.74 L451.80,392.98 L452.50,392.36 L453.20,394.08 L453.90,393.54 L454.60,394.92 L455.30,394.59 L456.00,395.60 L456.70,395.85 L457.40,395.93 L458.10,397.55 L458.80,398.15 L459.50,397.98 L460.20,399.28 L460.90,399.47 L461.60,400.80 L462.30,400.11 L463.00,401.20 L463.70,401.64 L464.40,402.87 L465.10,403.80 L465.80,404.70 L466.50,405.26 L467.20,406.04 L467.90,407.49 L468.60,407.28 L469.30,408.23 L470.00,409.63 L470.70,409.88 L471.40,411.33 L472.10,410.73 L472.80,411.89 L473.50,412.17 L474.20,412.45 L474.90,413.11 L475.60,413.61 L476.30,414.51 L477.00,415.13 L477.70,415.82 L478.40,416.20 L479.10,417.69 L479.80,418.67 L480.50,420.75 L481.20,420.83 L481.90,422.10 L482.60,422.60 L483.30,422.82 L484.00,423.84 L484.70,423.30 L485.40,424.69 L486.10,424.57 L486.80,425.25 L487.50,426.43 L488.20,427.18 L488.90,427.60 L489.60,428.10 L490.30,430.06 L491.00,429.98 L491.70,430.37 L492.40,431.87 L493.10,432.43 L493.80,432.86 L494.50,433.56 L495.20,434.96 L495.90,434.89 L496.60,435.60 L497.30,436.91 L498.00,436.58 L498.70,437.11 L499.40,437.23 L500.10,438.37 L500.80,438.81 L501.50,438.96 L502.20,439.35 L502.90,439.54 L503.60,440.72 L504.30,440.63 L505.00,441.52 L505.70,441.22 L506.40,442.05 L507.10,441.39 L507.80,441.99 L508.50,443.38 L509.20,443.37 L509.90,443.75 L510.60,443.92 L511.30,444.31 L512.00,444.36 L512.70,444.76 L513.40,445.84 L514.10,446.33 L514.80,446.14 L515.50,447.10 L516.20,446.81 L516.90,447.90 L517.60,447.70 L518.30,448.59 L519.00,448.75 L519.70,449.51 L520.40,449.35 L521.10,450.27 L521.80,450.86 L522.50,450.59 L523.20,451.21 L523.90,452.10 L524.60,452.27 L525.30,452.72 L526.00,453.29 L526.70,453.35 L527.40,453.21 L528.10,453.87 L528.80,454.77 L529.50,454.75 L530.20,455.36 L530.90,455.16 L531.60,455.63 L532.30,456.71 L533.00,456.85 L533.70,456.96 L534.40,456.55 L535.10,457.61 L535.80,457.15 L536.50,458.51" fill="none" stroke="#1c1c1c" stroke-width="1.45" stroke-linejoin="round"/>
<line x1="425.3" y1="383.8" x2="464.1" y2="455.9" stroke="#c42626" stroke-width="2.4" stroke-linecap="round" stroke-dasharray="0.1,3.75"/>
<path d="M468.4,464.6 L461.2,459.0 L465.2,457.9 L469.2,454.8 Z" fill="#d42222"/>
<text x="374.6" y="484.6" font-size="13" text-anchor="middle" fill="#1a1a1a" stroke="#1a1a1a" stroke-width="0.4" >500</text>
<text x="439.5" y="484.6" font-size="13" text-anchor="middle" fill="#1a1a1a" stroke="#1a1a1a" stroke-width="0.4" >600</text>
<text x="504.5" y="484.6" font-size="13" text-anchor="middle" fill="#1a1a1a" stroke="#1a1a1a" stroke-width="0.4" >700</text>
<text x="429.5" y="497.2" font-size="13.3" text-anchor="middle" fill="#1a1a1a" stroke="#1a1a1a" stroke-width="0.4" >Wavelength (nm)</text>
<text transform="translate(310.8,410.2) rotate(-90)" font-size="13.3" stroke="#1a1a1a" stroke-width="0.4" text-anchor="middle" fill="#1a1a1a">PL Intensity (a.u.)</text>
<text x="279.6" y="355.6" font-size="13.4" text-anchor="start" fill="#1a1a1a" stroke="#1a1a1a" stroke-width="0.5" >(d)</text>
<line x1="335.7" y1="350.8" x2="358.2" y2="350.8" stroke="#333" stroke-width="1.6"/>
<text x="361.0" y="354.40000000000003" font-size="10" text-anchor="start" fill="#1a1a1a" stroke="#1a1a1a" stroke-width="0.4" >GO</text>
<line x1="335.7" y1="363.1" x2="358.2" y2="363.1" stroke="#4848a8" stroke-width="1.6"/>
<text x="361.0" y="366.70000000000005" font-size="10" text-anchor="start" fill="#1a1a1a" stroke="#1a1a1a" stroke-width="0.4" >rGO-UV-10min</text>
<line x1="335.7" y1="375.40000000000003" x2="358.2" y2="375.40000000000003" stroke="#5a9a4a" stroke-width="1.6"/>
<text x="361.0" y="379.00000000000006" font-size="10" text-anchor="start" fill="#1a1a1a" stroke="#1a1a1a" stroke-width="0.4" >rGO-UV-30min</text>
<line x1="433.7" y1="351.0" x2="455.8" y2="351.0" stroke="#c04a48" stroke-width="1.6"/>
<text x="458.3" y="354.6" font-size="10" text-anchor="start" fill="#1a1a1a" stroke="#1a1a1a" stroke-width="0.4" >rGO-UV-5min</text>
<line x1="433.7" y1="363.3" x2="455.8" y2="363.3" stroke="#b848d0" stroke-width="1.6"/>
<text x="458.3" y="366.90000000000003" font-size="10" text-anchor="start" fill="#1a1a1a" stroke="#1a1a1a" stroke-width="0.4" >rGO-UV-20min</text>
</svg>
</body></html>
